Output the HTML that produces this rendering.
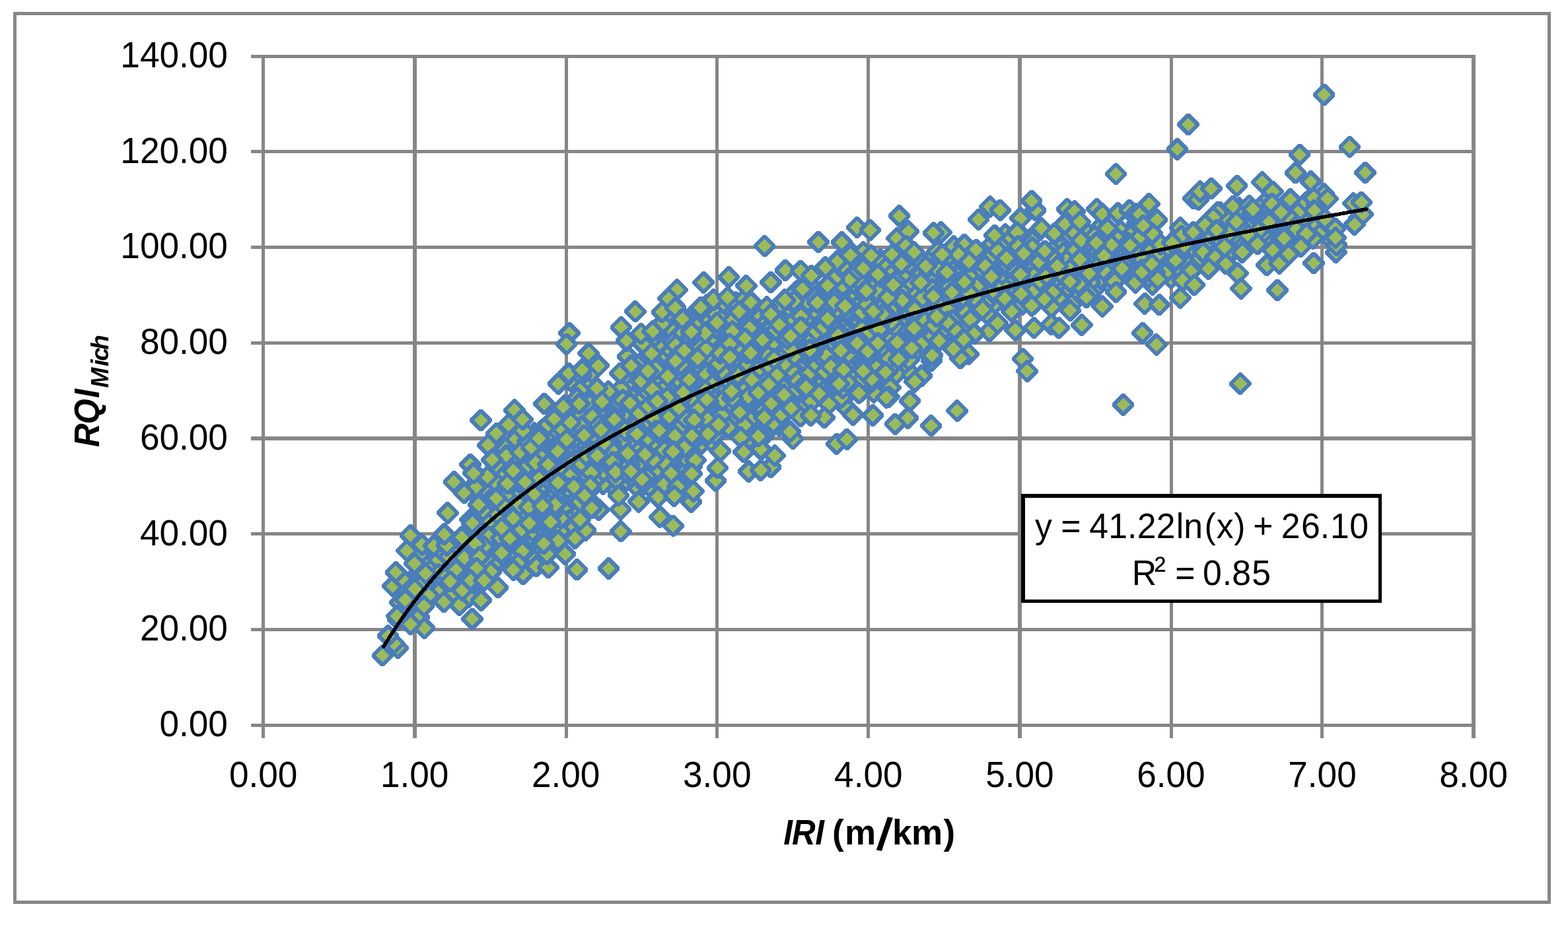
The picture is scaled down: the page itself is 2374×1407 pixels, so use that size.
<!DOCTYPE html>
<html lang="en"><head><meta charset="utf-8"><title>RQI Mich vs IRI (m/km)</title>
<style>
html,body{margin:0;padding:0;background:#fff;}
html,body{width:2374px;height:1407px;}
svg{display:block;}
text{font-family:"Liberation Sans",sans-serif;fill:#000;white-space:pre;}
.g{fill:#868686;shape-rendering:crispEdges;}
.b{font-weight:bold;}
.bi{font-weight:bold;font-style:italic;}
</style></head><body>
<svg width="2374" height="1407" viewBox="0 0 2374 1407" role="img" aria-label="Scatter chart of RQI Mich against IRI (m/km) with logarithmic trendline">
<rect x="0" y="0" width="2374" height="1407" fill="#fff"/>
<rect x="22.5" y="20.5" width="2323" height="1346" fill="none" stroke="#868686" stroke-width="5" shape-rendering="crispEdges"/>
<g class="g">
<rect x="380" y="83" width="1854" height="5"/>
<rect x="380" y="227" width="1854" height="5"/>
<rect x="380" y="372" width="1854" height="5"/>
<rect x="380" y="517" width="1854" height="5"/>
<rect x="380" y="661" width="1854" height="6"/>
<rect x="380" y="806" width="1854" height="5"/>
<rect x="380" y="951" width="1854" height="5"/>
<rect x="380" y="1096" width="1854" height="5"/>
<rect x="396" y="83" width="5" height="1035"/>
<rect x="625" y="83" width="6" height="1035"/>
<rect x="855" y="83" width="5" height="1035"/>
<rect x="1083" y="83" width="5" height="1035"/>
<rect x="1312" y="83" width="5" height="1035"/>
<rect x="1541" y="83" width="6" height="1035"/>
<rect x="1771" y="83" width="5" height="1035"/>
<rect x="1999" y="83" width="5" height="1035"/>
<rect x="2228" y="83" width="6" height="1035"/>
</g>
<text transform="translate(0,102) scale(0.9577,1)" x="190.42" font-size="55.5">140.00</text>
<text transform="translate(0,246.71) scale(0.9577,1)" x="190.42" font-size="55.5">120.00</text>
<text transform="translate(0,391.43) scale(0.9577,1)" x="190.42" font-size="55.5">100.00</text>
<text transform="translate(0,536.14) scale(0.9577,1)" x="221.3" font-size="55.5">80.00</text>
<text transform="translate(0,680.86) scale(0.9577,1)" x="221.3" font-size="55.5">60.00</text>
<text transform="translate(0,825.57) scale(0.9577,1)" x="221.3" font-size="55.5">40.00</text>
<text transform="translate(0,970.29) scale(0.9577,1)" x="221.3" font-size="55.5">20.00</text>
<text transform="translate(0,1115) scale(0.9577,1)" x="252.17" font-size="55.5">0.00</text>
<text transform="translate(0,1191.6) scale(0.9577,1)" x="362.21" font-size="55.5">0.00</text>
<text transform="translate(0,1191.6) scale(0.9577,1)" x="601.38" font-size="55.5">1.00</text>
<text transform="translate(0,1191.6) scale(0.9577,1)" x="840.55" font-size="55.5">2.00</text>
<text transform="translate(0,1191.6) scale(0.9577,1)" x="1079.72" font-size="55.5">3.00</text>
<text transform="translate(0,1191.6) scale(0.9577,1)" x="1318.9" font-size="55.5">4.00</text>
<text transform="translate(0,1191.6) scale(0.9577,1)" x="1558.07" font-size="55.5">5.00</text>
<text transform="translate(0,1191.6) scale(0.9577,1)" x="1797.24" font-size="55.5">6.00</text>
<text transform="translate(0,1191.6) scale(0.9577,1)" x="2036.41" font-size="55.5">7.00</text>
<text transform="translate(0,1191.6) scale(0.9577,1)" x="2275.58" font-size="55.5">8.00</text>
<g transform="rotate(45)" fill="#9BBB59" stroke="#4A7EBB" stroke-width="6" stroke-linejoin="bevel" shape-rendering="crispEdges">
<rect x="1193.9" y="-288.2" width="20.6" height="20.6"/><rect x="1353.7" y="-585.2" width="20.6" height="20.6"/><rect x="1186.8" y="-383.0" width="20.6" height="20.6"/><rect x="1433.6" y="-858.9" width="20.6" height="20.6"/><rect x="1549.6" y="-1093.6" width="20.6" height="20.6"/><rect x="1121.0" y="-390.7" width="20.6" height="20.6"/>
<rect x="1317.6" y="-583.1" width="20.6" height="20.6"/><rect x="1126.0" y="-418.3" width="20.6" height="20.6"/><rect x="1342.4" y="-757.7" width="20.6" height="20.6"/><rect x="1120.3" y="-378.7" width="20.6" height="20.6"/><rect x="1322.6" y="-620.6" width="20.6" height="20.6"/><rect x="1131.7" y="5.9" width="20.6" height="20.6"/>
<rect x="1198.8" y="-396.4" width="20.6" height="20.6"/><rect x="1131.7" y="-490.4" width="20.6" height="20.6"/><rect x="1344.5" y="-745.7" width="20.6" height="20.6"/><rect x="1174.1" y="-160.9" width="20.6" height="20.6"/><rect x="1060.9" y="-291.0" width="20.6" height="20.6"/><rect x="1203.8" y="-196.3" width="20.6" height="20.6"/>
<rect x="1140.1" y="-356.1" width="20.6" height="20.6"/><rect x="1140.8" y="-153.2" width="20.6" height="20.6"/><rect x="1342.4" y="-786.0" width="20.6" height="20.6"/><rect x="1371.4" y="-765.5" width="20.6" height="20.6"/><rect x="1077.2" y="3.8" width="20.6" height="20.6"/><rect x="1224.3" y="-444.5" width="20.6" height="20.6"/>
<rect x="1326.1" y="-708.9" width="20.6" height="20.6"/><rect x="1126.0" y="-108.6" width="20.6" height="20.6"/><rect x="1356.5" y="-749.3" width="20.6" height="20.6"/><rect x="1209.4" y="-356.1" width="20.6" height="20.6"/><rect x="1116.8" y="-283.3" width="20.6" height="20.6"/><rect x="1230.6" y="-508.8" width="20.6" height="20.6"/>
<rect x="1235.6" y="-444.5" width="20.6" height="20.6"/><rect x="1138.7" y="-145.4" width="20.6" height="20.6"/><rect x="1161.4" y="-33.7" width="20.6" height="20.6"/><rect x="1502.2" y="-955.7" width="20.6" height="20.6"/><rect x="1205.2" y="-356.1" width="20.6" height="20.6"/><rect x="1015.7" y="-213.3" width="20.6" height="20.6"/>
<rect x="1437.1" y="-962.8" width="20.6" height="20.6"/><rect x="1111.9" y="22.9" width="20.6" height="20.6"/><rect x="1253.3" y="-573.9" width="20.6" height="20.6"/><rect x="1145.1" y="-472.8" width="20.6" height="20.6"/><rect x="1301.4" y="-490.4" width="20.6" height="20.6"/><rect x="1584.2" y="-1139.6" width="20.6" height="20.6"/>
<rect x="1110.4" y="-308.0" width="20.6" height="20.6"/><rect x="1392.6" y="-803.7" width="20.6" height="20.6"/><rect x="1139.4" y="-37.2" width="20.6" height="20.6"/><rect x="1120.3" y="-426.8" width="20.6" height="20.6"/><rect x="1173.4" y="-465.7" width="20.6" height="20.6"/><rect x="1473.9" y="-968.5" width="20.6" height="20.6"/>
<rect x="1129.5" y="-397.8" width="20.6" height="20.6"/><rect x="1321.9" y="-672.2" width="20.6" height="20.6"/><rect x="1085.7" y="-18.8" width="20.6" height="20.6"/><rect x="1193.2" y="-311.6" width="20.6" height="20.6"/><rect x="1147.9" y="-284.7" width="20.6" height="20.6"/><rect x="1128.1" y="-460.0" width="20.6" height="20.6"/>
<rect x="1309.8" y="-716.7" width="20.6" height="20.6"/><rect x="1089.2" y="-316.5" width="20.6" height="20.6"/><rect x="1157.8" y="-238.0" width="20.6" height="20.6"/><rect x="1350.9" y="-537.1" width="20.6" height="20.6"/><rect x="1306.3" y="-643.9" width="20.6" height="20.6"/><rect x="1281.6" y="-476.3" width="20.6" height="20.6"/>
<rect x="1193.9" y="-250.0" width="20.6" height="20.6"/><rect x="1220.7" y="-641.8" width="20.6" height="20.6"/><rect x="1294.3" y="-746.4" width="20.6" height="20.6"/><rect x="1168.4" y="-528.6" width="20.6" height="20.6"/><rect x="1314.1" y="-747.8" width="20.6" height="20.6"/><rect x="1128.1" y="-79.6" width="20.6" height="20.6"/>
<rect x="1145.1" y="-342.7" width="20.6" height="20.6"/><rect x="1395.4" y="-731.6" width="20.6" height="20.6"/><rect x="1265.3" y="-503.9" width="20.6" height="20.6"/><rect x="1051.8" y="162.2" width="20.6" height="20.6"/><rect x="1462.6" y="-944.4" width="20.6" height="20.6"/><rect x="1365.7" y="-827.7" width="20.6" height="20.6"/>
<rect x="1172.7" y="-210.4" width="20.6" height="20.6"/><rect x="1114.7" y="-26.6" width="20.6" height="20.6"/><rect x="1268.1" y="-471.4" width="20.6" height="20.6"/><rect x="1522.0" y="-1044.8" width="20.6" height="20.6"/><rect x="1046.8" y="-86.0" width="20.6" height="20.6"/><rect x="1528.3" y="-939.5" width="20.6" height="20.6"/>
<rect x="1240.5" y="-573.9" width="20.6" height="20.6"/><rect x="1590.6" y="-1177.0" width="20.6" height="20.6"/><rect x="1054.6" y="-20.2" width="20.6" height="20.6"/><rect x="1322.6" y="-534.3" width="20.6" height="20.6"/><rect x="1328.9" y="-642.5" width="20.6" height="20.6"/><rect x="1089.2" y="-94.5" width="20.6" height="20.6"/>
<rect x="1107.6" y="49.8" width="20.6" height="20.6"/><rect x="1077.9" y="147.4" width="20.6" height="20.6"/><rect x="1264.6" y="-521.6" width="20.6" height="20.6"/><rect x="1108.3" y="-438.8" width="20.6" height="20.6"/><rect x="1179.0" y="-488.3" width="20.6" height="20.6"/><rect x="1037.6" y="-404.9" width="20.6" height="20.6"/>
<rect x="1345.2" y="-525.8" width="20.6" height="20.6"/><rect x="1184.0" y="-493.3" width="20.6" height="20.6"/><rect x="1215.8" y="-279.0" width="20.6" height="20.6"/><rect x="1142.3" y="3.8" width="20.6" height="20.6"/><rect x="1099.1" y="-250.0" width="20.6" height="20.6"/><rect x="1309.8" y="-739.4" width="20.6" height="20.6"/>
<rect x="1133.8" y="-406.3" width="20.6" height="20.6"/><rect x="1678.2" y="-1232.2" width="20.6" height="20.6"/><rect x="1208.7" y="-428.9" width="20.6" height="20.6"/><rect x="1282.3" y="-494.0" width="20.6" height="20.6"/><rect x="1324.0" y="-696.9" width="20.6" height="20.6"/><rect x="1397.5" y="-892.1" width="20.6" height="20.6"/>
<rect x="1544.6" y="-1026.4" width="20.6" height="20.6"/><rect x="1074.4" y="-178.6" width="20.6" height="20.6"/><rect x="1265.3" y="-693.4" width="20.6" height="20.6"/><rect x="1222.9" y="-502.5" width="20.6" height="20.6"/><rect x="1373.5" y="-828.4" width="20.6" height="20.6"/><rect x="1127.4" y="-156.7" width="20.6" height="20.6"/>
<rect x="1395.4" y="-782.5" width="20.6" height="20.6"/><rect x="1145.8" y="-213.3" width="20.6" height="20.6"/><rect x="1130.2" y="-87.4" width="20.6" height="20.6"/><rect x="1551.7" y="-979.8" width="20.6" height="20.6"/><rect x="1109.0" y="-124.2" width="20.6" height="20.6"/><rect x="1179.0" y="-505.3" width="20.6" height="20.6"/>
<rect x="1187.5" y="-341.2" width="20.6" height="20.6"/><rect x="1089.9" y="-37.2" width="20.6" height="20.6"/><rect x="1363.6" y="-817.1" width="20.6" height="20.6"/><rect x="1324.7" y="-591.6" width="20.6" height="20.6"/><rect x="1336.7" y="-650.3" width="20.6" height="20.6"/><rect x="1166.3" y="-560.5" width="20.6" height="20.6"/>
<rect x="999.4" y="-208.3" width="20.6" height="20.6"/><rect x="1062.4" y="-127.0" width="20.6" height="20.6"/><rect x="1104.8" y="109.2" width="20.6" height="20.6"/><rect x="1184.0" y="-653.1" width="20.6" height="20.6"/><rect x="1333.2" y="-549.1" width="20.6" height="20.6"/><rect x="1341.0" y="-804.4" width="20.6" height="20.6"/>
<rect x="1411.0" y="-943.7" width="20.6" height="20.6"/><rect x="1617.4" y="-1185.5" width="20.6" height="20.6"/><rect x="1208.7" y="-662.3" width="20.6" height="20.6"/><rect x="1225.0" y="-363.2" width="20.6" height="20.6"/><rect x="1307.0" y="-523.0" width="20.6" height="20.6"/><rect x="1162.8" y="-404.2" width="20.6" height="20.6"/>
<rect x="1162.8" y="-518.7" width="20.6" height="20.6"/><rect x="1349.4" y="-877.9" width="20.6" height="20.6"/><rect x="1155.0" y="-566.1" width="20.6" height="20.6"/><rect x="1115.4" y="-321.5" width="20.6" height="20.6"/><rect x="1315.5" y="-572.5" width="20.6" height="20.6"/><rect x="1153.6" y="-137.6" width="20.6" height="20.6"/>
<rect x="1028.4" y="-180.7" width="20.6" height="20.6"/><rect x="1490.9" y="-928.9" width="20.6" height="20.6"/><rect x="1488.0" y="-943.0" width="20.6" height="20.6"/><rect x="1214.4" y="-266.3" width="20.6" height="20.6"/><rect x="1186.8" y="-267.0" width="20.6" height="20.6"/><rect x="1368.5" y="-751.4" width="20.6" height="20.6"/>
<rect x="1044.0" y="-139.7" width="20.6" height="20.6"/><rect x="1307.7" y="-662.3" width="20.6" height="20.6"/><rect x="1065.9" y="-199.8" width="20.6" height="20.6"/><rect x="1060.9" y="-361.8" width="20.6" height="20.6"/><rect x="1186.1" y="-400.6" width="20.6" height="20.6"/><rect x="1139.4" y="-82.4" width="20.6" height="20.6"/>
<rect x="1049.6" y="-39.3" width="20.6" height="20.6"/><rect x="1136.6" y="-157.4" width="20.6" height="20.6"/><rect x="1130.9" y="-194.2" width="20.6" height="20.6"/><rect x="1042.6" y="-73.3" width="20.6" height="20.6"/><rect x="1330.4" y="-720.3" width="20.6" height="20.6"/><rect x="1078.6" y="12.3" width="20.6" height="20.6"/>
<rect x="1211.6" y="-417.6" width="20.6" height="20.6"/><rect x="1348.0" y="-687.0" width="20.6" height="20.6"/><rect x="1154.3" y="-549.8" width="20.6" height="20.6"/><rect x="1040.4" y="-33.0" width="20.6" height="20.6"/><rect x="1344.5" y="-710.4" width="20.6" height="20.6"/><rect x="1016.4" y="-69.7" width="20.6" height="20.6"/>
<rect x="1389.0" y="-849.7" width="20.6" height="20.6"/><rect x="1118.2" y="-105.1" width="20.6" height="20.6"/><rect x="1341.0" y="-825.6" width="20.6" height="20.6"/><rect x="1025.6" y="-118.5" width="20.6" height="20.6"/><rect x="1087.1" y="-35.8" width="20.6" height="20.6"/><rect x="1063.8" y="-80.3" width="20.6" height="20.6"/>
<rect x="1386.2" y="-763.4" width="20.6" height="20.6"/><rect x="1242.0" y="-426.8" width="20.6" height="20.6"/><rect x="1090.6" y="157.3" width="20.6" height="20.6"/><rect x="1156.4" y="-286.1" width="20.6" height="20.6"/><rect x="1112.6" y="-471.4" width="20.6" height="20.6"/><rect x="1090.6" y="-391.5" width="20.6" height="20.6"/>
<rect x="1021.3" y="138.9" width="20.6" height="20.6"/><rect x="1229.9" y="-617.0" width="20.6" height="20.6"/><rect x="1219.3" y="-498.9" width="20.6" height="20.6"/><rect x="1532.6" y="-1021.5" width="20.6" height="20.6"/><rect x="1118.9" y="-279.7" width="20.6" height="20.6"/><rect x="1203.8" y="-344.8" width="20.6" height="20.6"/>
<rect x="1077.2" y="224.4" width="20.6" height="20.6"/><rect x="1635.1" y="-1118.4" width="20.6" height="20.6"/><rect x="1299.9" y="-476.3" width="20.6" height="20.6"/><rect x="1054.6" y="-115.0" width="20.6" height="20.6"/><rect x="1195.3" y="-203.4" width="20.6" height="20.6"/><rect x="1121.8" y="-52.0" width="20.6" height="20.6"/>
<rect x="1316.2" y="-868.8" width="20.6" height="20.6"/><rect x="1246.9" y="-673.6" width="20.6" height="20.6"/><rect x="1258.2" y="-597.2" width="20.6" height="20.6"/><rect x="1074.4" y="118.4" width="20.6" height="20.6"/><rect x="1105.5" y="-451.6" width="20.6" height="20.6"/><rect x="1311.3" y="-593.7" width="20.6" height="20.6"/>
<rect x="1184.0" y="-589.4" width="20.6" height="20.6"/><rect x="1448.4" y="-914.7" width="20.6" height="20.6"/><rect x="1278.7" y="-682.8" width="20.6" height="20.6"/><rect x="1165.6" y="-391.5" width="20.6" height="20.6"/><rect x="1525.5" y="-986.1" width="20.6" height="20.6"/><rect x="1663.4" y="-1241.4" width="20.6" height="20.6"/>
<rect x="1324.7" y="-625.5" width="20.6" height="20.6"/><rect x="1036.2" y="-338.4" width="20.6" height="20.6"/><rect x="1181.2" y="-50.6" width="20.6" height="20.6"/><rect x="1080.7" y="-46.4" width="20.6" height="20.6"/><rect x="1051.8" y="-18.8" width="20.6" height="20.6"/><rect x="1088.5" y="64.6" width="20.6" height="20.6"/>
<rect x="1114.7" y="-233.1" width="20.6" height="20.6"/><rect x="1385.5" y="-877.2" width="20.6" height="20.6"/><rect x="1114.7" y="-78.9" width="20.6" height="20.6"/><rect x="1061.7" y="-387.9" width="20.6" height="20.6"/><rect x="993.8" y="-109.3" width="20.6" height="20.6"/><rect x="1094.9" y="-368.8" width="20.6" height="20.6"/>
<rect x="1313.4" y="-812.2" width="20.6" height="20.6"/><rect x="1309.8" y="-685.6" width="20.6" height="20.6"/><rect x="1102.7" y="-379.4" width="20.6" height="20.6"/><rect x="1294.3" y="-552.7" width="20.6" height="20.6"/><rect x="1150.7" y="-577.4" width="20.6" height="20.6"/><rect x="1171.3" y="-289.6" width="20.6" height="20.6"/>
<rect x="1084.3" y="-266.3" width="20.6" height="20.6"/><rect x="1085.7" y="67.5" width="20.6" height="20.6"/><rect x="1064.5" y="-277.6" width="20.6" height="20.6"/><rect x="1131.7" y="-168.0" width="20.6" height="20.6"/><rect x="1199.5" y="-523.0" width="20.6" height="20.6"/><rect x="1323.3" y="-556.2" width="20.6" height="20.6"/>
<rect x="1056.0" y="-35.8" width="20.6" height="20.6"/><rect x="1121.8" y="88.0" width="20.6" height="20.6"/><rect x="1217.2" y="-622.7" width="20.6" height="20.6"/><rect x="1234.2" y="-389.3" width="20.6" height="20.6"/><rect x="1177.6" y="-175.8" width="20.6" height="20.6"/><rect x="1226.4" y="-508.8" width="20.6" height="20.6"/>
<rect x="1126.7" y="-472.8" width="20.6" height="20.6"/><rect x="1123.2" y="-192.1" width="20.6" height="20.6"/><rect x="1309.1" y="-778.2" width="20.6" height="20.6"/><rect x="1273.1" y="-374.5" width="20.6" height="20.6"/><rect x="1263.9" y="-559.0" width="20.6" height="20.6"/><rect x="1364.3" y="-692.0" width="20.6" height="20.6"/>
<rect x="1382.0" y="-730.9" width="20.6" height="20.6"/><rect x="1213.7" y="-497.5" width="20.6" height="20.6"/><rect x="1294.3" y="-634.7" width="20.6" height="20.6"/><rect x="1114.0" y="-64.1" width="20.6" height="20.6"/><rect x="1217.2" y="-378.0" width="20.6" height="20.6"/><rect x="1154.3" y="-467.8" width="20.6" height="20.6"/>
<rect x="1384.8" y="-680.0" width="20.6" height="20.6"/><rect x="1203.8" y="-354.7" width="20.6" height="20.6"/><rect x="1143.7" y="-447.3" width="20.6" height="20.6"/><rect x="1407.4" y="-844.0" width="20.6" height="20.6"/><rect x="1021.3" y="-257.1" width="20.6" height="20.6"/><rect x="1289.3" y="-527.9" width="20.6" height="20.6"/>
<rect x="1114.7" y="-261.3" width="20.6" height="20.6"/><rect x="1228.5" y="-564.7" width="20.6" height="20.6"/><rect x="1680.4" y="-1220.2" width="20.6" height="20.6"/><rect x="1073.0" y="193.3" width="20.6" height="20.6"/><rect x="1241.3" y="-560.5" width="20.6" height="20.6"/><rect x="1210.1" y="-634.0" width="20.6" height="20.6"/>
<rect x="1291.5" y="-777.5" width="20.6" height="20.6"/><rect x="1319.7" y="-616.3" width="20.6" height="20.6"/><rect x="1216.5" y="-592.3" width="20.6" height="20.6"/><rect x="1285.1" y="-423.3" width="20.6" height="20.6"/><rect x="1065.9" y="-57.0" width="20.6" height="20.6"/><rect x="1157.8" y="-420.4" width="20.6" height="20.6"/>
<rect x="1443.5" y="-922.5" width="20.6" height="20.6"/><rect x="1184.7" y="-540.7" width="20.6" height="20.6"/><rect x="1441.4" y="-923.2" width="20.6" height="20.6"/><rect x="1320.5" y="-540.7" width="20.6" height="20.6"/><rect x="1056.0" y="-173.0" width="20.6" height="20.6"/><rect x="1148.6" y="-284.0" width="20.6" height="20.6"/>
<rect x="1084.3" y="37.8" width="20.6" height="20.6"/><rect x="1163.5" y="-310.1" width="20.6" height="20.6"/><rect x="1301.4" y="-633.3" width="20.6" height="20.6"/><rect x="1583.5" y="-1117.7" width="20.6" height="20.6"/><rect x="1265.3" y="-717.4" width="20.6" height="20.6"/><rect x="1058.8" y="-216.8" width="20.6" height="20.6"/>
<rect x="1003.0" y="-56.3" width="20.6" height="20.6"/><rect x="1440.7" y="-846.1" width="20.6" height="20.6"/><rect x="1070.8" y="-18.1" width="20.6" height="20.6"/><rect x="1316.9" y="-835.5" width="20.6" height="20.6"/><rect x="1080.0" y="-228.1" width="20.6" height="20.6"/><rect x="1102.7" y="-65.5" width="20.6" height="20.6"/>
<rect x="1600.5" y="-1133.2" width="20.6" height="20.6"/><rect x="1326.8" y="-685.6" width="20.6" height="20.6"/><rect x="1150.0" y="-302.4" width="20.6" height="20.6"/><rect x="1195.3" y="-541.4" width="20.6" height="20.6"/><rect x="1326.8" y="-585.2" width="20.6" height="20.6"/><rect x="1150.7" y="-269.1" width="20.6" height="20.6"/>
<rect x="1064.5" y="-324.3" width="20.6" height="20.6"/><rect x="1234.2" y="-591.6" width="20.6" height="20.6"/><rect x="1133.8" y="-55.6" width="20.6" height="20.6"/><rect x="1331.1" y="-514.5" width="20.6" height="20.6"/><rect x="1208.0" y="-455.1" width="20.6" height="20.6"/><rect x="1430.1" y="-810.1" width="20.6" height="20.6"/>
<rect x="1341.7" y="-550.6" width="20.6" height="20.6"/><rect x="1170.5" y="-247.9" width="20.6" height="20.6"/><rect x="1232.8" y="-376.6" width="20.6" height="20.6"/><rect x="1286.5" y="-556.2" width="20.6" height="20.6"/><rect x="1425.8" y="-835.5" width="20.6" height="20.6"/><rect x="1222.2" y="-322.2" width="20.6" height="20.6"/>
<rect x="1212.3" y="-556.9" width="20.6" height="20.6"/><rect x="1357.9" y="-548.4" width="20.6" height="20.6"/><rect x="1247.6" y="-441.0" width="20.6" height="20.6"/><rect x="1150.7" y="-188.5" width="20.6" height="20.6"/><rect x="1319.7" y="-510.2" width="20.6" height="20.6"/><rect x="1199.5" y="-425.4" width="20.6" height="20.6"/>
<rect x="1261.8" y="-445.2" width="20.6" height="20.6"/><rect x="1283.0" y="-694.1" width="20.6" height="20.6"/><rect x="1192.5" y="-354.7" width="20.6" height="20.6"/><rect x="1116.8" y="-453.0" width="20.6" height="20.6"/><rect x="1095.6" y="-344.1" width="20.6" height="20.6"/><rect x="1230.6" y="-407.0" width="20.6" height="20.6"/>
<rect x="1094.2" y="70.3" width="20.6" height="20.6"/><rect x="1085.0" y="-303.8" width="20.6" height="20.6"/><rect x="1349.4" y="-569.6" width="20.6" height="20.6"/><rect x="1307.0" y="-631.9" width="20.6" height="20.6"/><rect x="1080.0" y="-64.1" width="20.6" height="20.6"/><rect x="1172.7" y="-350.4" width="20.6" height="20.6"/>
<rect x="1294.3" y="-542.8" width="20.6" height="20.6"/><rect x="1166.3" y="-549.1" width="20.6" height="20.6"/><rect x="1321.9" y="-752.8" width="20.6" height="20.6"/><rect x="1284.4" y="-617.7" width="20.6" height="20.6"/><rect x="1144.4" y="-223.2" width="20.6" height="20.6"/><rect x="1140.8" y="-448.7" width="20.6" height="20.6"/>
<rect x="1384.1" y="-823.5" width="20.6" height="20.6"/><rect x="1293.6" y="-711.8" width="20.6" height="20.6"/><rect x="1197.4" y="-478.4" width="20.6" height="20.6"/><rect x="1343.8" y="-797.3" width="20.6" height="20.6"/><rect x="1085.7" y="-158.8" width="20.6" height="20.6"/><rect x="1063.1" y="40.6" width="20.6" height="20.6"/>
<rect x="1196.7" y="-448.0" width="20.6" height="20.6"/><rect x="1046.8" y="136.0" width="20.6" height="20.6"/><rect x="1070.8" y="-337.7" width="20.6" height="20.6"/><rect x="1135.2" y="6.6" width="20.6" height="20.6"/><rect x="1121.0" y="-240.8" width="20.6" height="20.6"/><rect x="1102.7" y="-331.4" width="20.6" height="20.6"/>
<rect x="1211.6" y="-410.5" width="20.6" height="20.6"/><rect x="1137.3" y="-383.0" width="20.6" height="20.6"/><rect x="1418.0" y="-865.9" width="20.6" height="20.6"/><rect x="1063.1" y="-38.6" width="20.6" height="20.6"/><rect x="1407.4" y="-805.8" width="20.6" height="20.6"/><rect x="1077.9" y="-101.5" width="20.6" height="20.6"/>
<rect x="1310.6" y="-554.8" width="20.6" height="20.6"/><rect x="1181.2" y="-194.9" width="20.6" height="20.6"/><rect x="1307.7" y="-823.5" width="20.6" height="20.6"/><rect x="1559.5" y="-1107.8" width="20.6" height="20.6"/><rect x="1090.6" y="103.5" width="20.6" height="20.6"/><rect x="1252.6" y="-560.5" width="20.6" height="20.6"/>
<rect x="1225.7" y="-339.8" width="20.6" height="20.6"/><rect x="1200.2" y="-440.2" width="20.6" height="20.6"/><rect x="1423.0" y="-863.8" width="20.6" height="20.6"/><rect x="1111.9" y="-197.7" width="20.6" height="20.6"/><rect x="1326.8" y="-821.4" width="20.6" height="20.6"/><rect x="1106.9" y="-154.6" width="20.6" height="20.6"/>
<rect x="1073.7" y="-240.1" width="20.6" height="20.6"/><rect x="1138.7" y="-43.6" width="20.6" height="20.6"/><rect x="1261.8" y="-371.7" width="20.6" height="20.6"/><rect x="1447.7" y="-1000.3" width="20.6" height="20.6"/><rect x="1111.1" y="-263.5" width="20.6" height="20.6"/><rect x="1133.1" y="-227.4" width="20.6" height="20.6"/>
<rect x="1291.5" y="-514.5" width="20.6" height="20.6"/><rect x="1162.1" y="-380.8" width="20.6" height="20.6"/><rect x="1106.2" y="-151.0" width="20.6" height="20.6"/><rect x="1065.9" y="-140.4" width="20.6" height="20.6"/><rect x="1193.9" y="-544.2" width="20.6" height="20.6"/><rect x="1470.4" y="-915.4" width="20.6" height="20.6"/>
<rect x="1348.0" y="-698.3" width="20.6" height="20.6"/><rect x="1144.4" y="-234.5" width="20.6" height="20.6"/><rect x="1481.7" y="-990.4" width="20.6" height="20.6"/><rect x="1217.2" y="-634.0" width="20.6" height="20.6"/><rect x="1345.9" y="-615.6" width="20.6" height="20.6"/><rect x="1357.9" y="-722.4" width="20.6" height="20.6"/>
<rect x="1207.3" y="-530.8" width="20.6" height="20.6"/><rect x="1136.6" y="-304.5" width="20.6" height="20.6"/><rect x="1336.7" y="-749.3" width="20.6" height="20.6"/><rect x="1040.4" y="105.6" width="20.6" height="20.6"/><rect x="1028.4" y="10.2" width="20.6" height="20.6"/><rect x="1249.7" y="-414.8" width="20.6" height="20.6"/>
<rect x="1554.5" y="-1090.1" width="20.6" height="20.6"/><rect x="1038.3" y="196.9" width="20.6" height="20.6"/><rect x="1085.7" y="19.4" width="20.6" height="20.6"/><rect x="1338.1" y="-798.7" width="20.6" height="20.6"/><rect x="1379.8" y="-751.4" width="20.6" height="20.6"/><rect x="1275.2" y="-762.7" width="20.6" height="20.6"/>
<rect x="1217.9" y="-371.7" width="20.6" height="20.6"/><rect x="1195.3" y="-585.2" width="20.6" height="20.6"/><rect x="1162.1" y="-293.2" width="20.6" height="20.6"/><rect x="1627.3" y="-1030.0" width="20.6" height="20.6"/><rect x="1516.3" y="-943.0" width="20.6" height="20.6"/><rect x="1283.0" y="-630.5" width="20.6" height="20.6"/>
<rect x="1381.3" y="-888.6" width="20.6" height="20.6"/><rect x="1073.0" y="-47.1" width="20.6" height="20.6"/><rect x="1152.9" y="-453.7" width="20.6" height="20.6"/><rect x="1360.0" y="-648.1" width="20.6" height="20.6"/><rect x="1087.8" y="31.4" width="20.6" height="20.6"/><rect x="1558.0" y="-1028.6" width="20.6" height="20.6"/>
<rect x="1102.0" y="-78.9" width="20.6" height="20.6"/><rect x="1344.5" y="-723.1" width="20.6" height="20.6"/><rect x="1209.4" y="-360.3" width="20.6" height="20.6"/><rect x="1111.9" y="38.5" width="20.6" height="20.6"/><rect x="1583.5" y="-1151.6" width="20.6" height="20.6"/><rect x="1091.3" y="-170.1" width="20.6" height="20.6"/>
<rect x="1140.1" y="-16.7" width="20.6" height="20.6"/><rect x="1089.2" y="-16.7" width="20.6" height="20.6"/><rect x="1058.8" y="-157.4" width="20.6" height="20.6"/><rect x="1403.9" y="-766.9" width="20.6" height="20.6"/><rect x="1578.5" y="-1078.8" width="20.6" height="20.6"/><rect x="1304.2" y="-527.2" width="20.6" height="20.6"/>
<rect x="1181.2" y="-206.2" width="20.6" height="20.6"/><rect x="1310.6" y="-752.8" width="20.6" height="20.6"/><rect x="1140.8" y="-467.1" width="20.6" height="20.6"/><rect x="1474.6" y="-949.4" width="20.6" height="20.6"/><rect x="1048.2" y="-4.0" width="20.6" height="20.6"/><rect x="1262.5" y="-453.0" width="20.6" height="20.6"/>
<rect x="1196.7" y="-170.8" width="20.6" height="20.6"/><rect x="1190.3" y="-505.3" width="20.6" height="20.6"/><rect x="1114.0" y="-64.1" width="20.6" height="20.6"/><rect x="1173.4" y="-535.0" width="20.6" height="20.6"/><rect x="1143.7" y="-387.9" width="20.6" height="20.6"/><rect x="1065.9" y="-112.1" width="20.6" height="20.6"/>
<rect x="1378.4" y="-799.5" width="20.6" height="20.6"/><rect x="1102.7" y="-38.6" width="20.6" height="20.6"/><rect x="1116.1" y="-156.7" width="20.6" height="20.6"/><rect x="1337.4" y="-561.9" width="20.6" height="20.6"/><rect x="1269.5" y="-484.1" width="20.6" height="20.6"/><rect x="1130.2" y="-94.5" width="20.6" height="20.6"/>
<rect x="1095.6" y="-332.8" width="20.6" height="20.6"/><rect x="1275.9" y="-524.4" width="20.6" height="20.6"/><rect x="1246.2" y="-339.1" width="20.6" height="20.6"/><rect x="1198.1" y="-182.2" width="20.6" height="20.6"/><rect x="1338.1" y="-810.1" width="20.6" height="20.6"/><rect x="1034.1" y="-88.8" width="20.6" height="20.6"/>
<rect x="1138.0" y="-412.0" width="20.6" height="20.6"/><rect x="1073.0" y="104.2" width="20.6" height="20.6"/><rect x="1295.7" y="-760.6" width="20.6" height="20.6"/><rect x="1056.7" y="-162.4" width="20.6" height="20.6"/><rect x="1534.7" y="-1102.8" width="20.6" height="20.6"/><rect x="1273.1" y="-441.0" width="20.6" height="20.6"/>
<rect x="1315.5" y="-597.9" width="20.6" height="20.6"/><rect x="1104.1" y="-136.2" width="20.6" height="20.6"/><rect x="1134.5" y="-11.0" width="20.6" height="20.6"/><rect x="1288.6" y="-602.2" width="20.6" height="20.6"/><rect x="1268.1" y="-662.3" width="20.6" height="20.6"/><rect x="1650.7" y="-1160.8" width="20.6" height="20.6"/>
<rect x="1159.9" y="-298.1" width="20.6" height="20.6"/><rect x="1092.1" y="96.4" width="20.6" height="20.6"/><rect x="1168.4" y="-4.0" width="20.6" height="20.6"/><rect x="1221.5" y="-433.2" width="20.6" height="20.6"/><rect x="1169.8" y="-235.9" width="20.6" height="20.6"/><rect x="1244.8" y="-654.5" width="20.6" height="20.6"/>
<rect x="1162.8" y="-381.6" width="20.6" height="20.6"/><rect x="1471.1" y="-875.1" width="20.6" height="20.6"/><rect x="1145.8" y="-119.9" width="20.6" height="20.6"/><rect x="1244.8" y="-442.4" width="20.6" height="20.6"/><rect x="1309.1" y="-543.5" width="20.6" height="20.6"/><rect x="1152.2" y="-383.7" width="20.6" height="20.6"/>
<rect x="1195.3" y="-247.2" width="20.6" height="20.6"/><rect x="1174.8" y="-146.1" width="20.6" height="20.6"/><rect x="1157.8" y="-221.0" width="20.6" height="20.6"/><rect x="1269.5" y="-494.0" width="20.6" height="20.6"/><rect x="1240.5" y="-593.7" width="20.6" height="20.6"/><rect x="1421.6" y="-906.2" width="20.6" height="20.6"/>
<rect x="1232.1" y="-207.6" width="20.6" height="20.6"/><rect x="1093.5" y="66.8" width="20.6" height="20.6"/><rect x="1281.6" y="-554.1" width="20.6" height="20.6"/><rect x="1317.6" y="-700.5" width="20.6" height="20.6"/><rect x="1149.3" y="-189.9" width="20.6" height="20.6"/><rect x="1229.9" y="-546.3" width="20.6" height="20.6"/>
<rect x="1186.1" y="-639.6" width="20.6" height="20.6"/><rect x="1092.1" y="51.2" width="20.6" height="20.6"/><rect x="1123.2" y="28.6" width="20.6" height="20.6"/><rect x="1081.4" y="-277.6" width="20.6" height="20.6"/><rect x="1188.2" y="-491.9" width="20.6" height="20.6"/><rect x="1307.7" y="-527.9" width="20.6" height="20.6"/>
<rect x="1324.7" y="-566.1" width="20.6" height="20.6"/><rect x="1103.4" y="-316.5" width="20.6" height="20.6"/><rect x="1619.6" y="-1158.0" width="20.6" height="20.6"/><rect x="1149.3" y="-27.3" width="20.6" height="20.6"/><rect x="1192.5" y="-196.3" width="20.6" height="20.6"/><rect x="1082.2" y="-170.8" width="20.6" height="20.6"/>
<rect x="1241.3" y="-536.4" width="20.6" height="20.6"/><rect x="1094.9" y="-185.0" width="20.6" height="20.6"/><rect x="1074.4" y="126.9" width="20.6" height="20.6"/><rect x="1088.5" y="-23.1" width="20.6" height="20.6"/><rect x="1124.6" y="-104.4" width="20.6" height="20.6"/><rect x="1410.3" y="-910.5" width="20.6" height="20.6"/>
<rect x="1541.1" y="-966.3" width="20.6" height="20.6"/><rect x="1164.2" y="-452.3" width="20.6" height="20.6"/><rect x="1184.0" y="-308.0" width="20.6" height="20.6"/><rect x="1069.4" y="27.2" width="20.6" height="20.6"/><rect x="1229.9" y="-250.7" width="20.6" height="20.6"/><rect x="1286.5" y="-560.5" width="20.6" height="20.6"/>
<rect x="1274.5" y="-357.5" width="20.6" height="20.6"/><rect x="1549.6" y="-1045.5" width="20.6" height="20.6"/><rect x="1077.2" y="-385.1" width="20.6" height="20.6"/><rect x="1449.9" y="-824.2" width="20.6" height="20.6"/><rect x="1452.0" y="-973.4" width="20.6" height="20.6"/><rect x="1126.0" y="-172.3" width="20.6" height="20.6"/>
<rect x="1143.7" y="-68.3" width="20.6" height="20.6"/><rect x="1239.1" y="-664.4" width="20.6" height="20.6"/><rect x="1244.1" y="-496.8" width="20.6" height="20.6"/><rect x="1063.1" y="-1.8" width="20.6" height="20.6"/><rect x="1275.2" y="-345.5" width="20.6" height="20.6"/><rect x="1108.3" y="80.2" width="20.6" height="20.6"/>
<rect x="1064.5" y="6.6" width="20.6" height="20.6"/><rect x="1234.9" y="-520.1" width="20.6" height="20.6"/><rect x="1505.0" y="-1016.5" width="20.6" height="20.6"/><rect x="1398.9" y="-877.9" width="20.6" height="20.6"/><rect x="1054.6" y="-201.2" width="20.6" height="20.6"/><rect x="1261.8" y="-342.0" width="20.6" height="20.6"/>
<rect x="1198.1" y="-231.6" width="20.6" height="20.6"/><rect x="1217.2" y="-694.8" width="20.6" height="20.6"/><rect x="1369.9" y="-888.6" width="20.6" height="20.6"/><rect x="1253.3" y="-521.6" width="20.6" height="20.6"/><rect x="1079.3" y="-292.5" width="20.6" height="20.6"/><rect x="1098.4" y="-300.2" width="20.6" height="20.6"/>
<rect x="1234.9" y="-496.1" width="20.6" height="20.6"/><rect x="1282.3" y="-629.7" width="20.6" height="20.6"/><rect x="1278.0" y="-519.4" width="20.6" height="20.6"/><rect x="1589.9" y="-1075.9" width="20.6" height="20.6"/><rect x="1326.1" y="-612.8" width="20.6" height="20.6"/><rect x="1286.5" y="-543.5" width="20.6" height="20.6"/>
<rect x="1174.8" y="-328.5" width="20.6" height="20.6"/><rect x="1261.1" y="-407.7" width="20.6" height="20.6"/><rect x="1088.5" y="-64.1" width="20.6" height="20.6"/><rect x="1529.0" y="-999.6" width="20.6" height="20.6"/><rect x="1242.0" y="-674.3" width="20.6" height="20.6"/><rect x="1094.2" y="-171.5" width="20.6" height="20.6"/>
<rect x="1121.0" y="-216.8" width="20.6" height="20.6"/><rect x="1032.7" y="136.0" width="20.6" height="20.6"/><rect x="1062.4" y="-228.8" width="20.6" height="20.6"/><rect x="1591.3" y="-1095.7" width="20.6" height="20.6"/><rect x="1247.6" y="-498.9" width="20.6" height="20.6"/><rect x="1260.3" y="-554.1" width="20.6" height="20.6"/>
<rect x="1316.2" y="-725.9" width="20.6" height="20.6"/><rect x="1259.6" y="-501.1" width="20.6" height="20.6"/><rect x="1106.9" y="-255.0" width="20.6" height="20.6"/><rect x="1102.7" y="-212.6" width="20.6" height="20.6"/><rect x="1309.8" y="-766.2" width="20.6" height="20.6"/><rect x="1226.4" y="-196.3" width="20.6" height="20.6"/>
<rect x="1367.8" y="-585.2" width="20.6" height="20.6"/><rect x="1258.2" y="-614.2" width="20.6" height="20.6"/><rect x="1162.1" y="29.3" width="20.6" height="20.6"/><rect x="1223.6" y="-554.1" width="20.6" height="20.6"/><rect x="1229.9" y="-629.7" width="20.6" height="20.6"/><rect x="1359.3" y="-709.7" width="20.6" height="20.6"/>
<rect x="1341.0" y="-839.8" width="20.6" height="20.6"/><rect x="1102.0" y="-18.1" width="20.6" height="20.6"/><rect x="1314.8" y="-791.0" width="20.6" height="20.6"/><rect x="1123.2" y="73.8" width="20.6" height="20.6"/><rect x="1282.3" y="-546.3" width="20.6" height="20.6"/><rect x="1085.0" y="-235.9" width="20.6" height="20.6"/>
<rect x="1135.9" y="-94.5" width="20.6" height="20.6"/><rect x="1331.8" y="-535.0" width="20.6" height="20.6"/><rect x="1251.2" y="-585.9" width="20.6" height="20.6"/><rect x="1051.8" y="149.5" width="20.6" height="20.6"/><rect x="1192.5" y="-323.6" width="20.6" height="20.6"/><rect x="1319.7" y="-523.0" width="20.6" height="20.6"/>
<rect x="1200.2" y="-387.9" width="20.6" height="20.6"/><rect x="1174.1" y="-259.9" width="20.6" height="20.6"/><rect x="1357.9" y="-805.8" width="20.6" height="20.6"/><rect x="1053.9" y="-39.3" width="20.6" height="20.6"/><rect x="1142.3" y="50.5" width="20.6" height="20.6"/><rect x="1087.1" y="-157.4" width="20.6" height="20.6"/>
<rect x="1263.9" y="-728.7" width="20.6" height="20.6"/><rect x="1056.0" y="174.9" width="20.6" height="20.6"/><rect x="1341.0" y="-773.3" width="20.6" height="20.6"/><rect x="1445.6" y="-894.9" width="20.6" height="20.6"/><rect x="1450.6" y="-885.7" width="20.6" height="20.6"/><rect x="1083.6" y="-210.4" width="20.6" height="20.6"/>
<rect x="1246.9" y="-396.4" width="20.6" height="20.6"/><rect x="1651.4" y="-1181.3" width="20.6" height="20.6"/><rect x="1104.8" y="-216.1" width="20.6" height="20.6"/><rect x="1179.0" y="-453.0" width="20.6" height="20.6"/><rect x="1232.1" y="-233.1" width="20.6" height="20.6"/><rect x="1070.8" y="-258.5" width="20.6" height="20.6"/>
<rect x="1374.2" y="-803.7" width="20.6" height="20.6"/><rect x="1422.3" y="-792.4" width="20.6" height="20.6"/><rect x="1024.9" y="-424.7" width="20.6" height="20.6"/><rect x="1266.7" y="-595.8" width="20.6" height="20.6"/><rect x="1158.5" y="-74.7" width="20.6" height="20.6"/><rect x="1070.1" y="-349.7" width="20.6" height="20.6"/>
<rect x="1123.9" y="-327.1" width="20.6" height="20.6"/><rect x="1459.0" y="-932.4" width="20.6" height="20.6"/><rect x="1246.9" y="-625.5" width="20.6" height="20.6"/><rect x="1089.9" y="-229.5" width="20.6" height="20.6"/><rect x="1184.0" y="-482.0" width="20.6" height="20.6"/><rect x="1285.1" y="-436.0" width="20.6" height="20.6"/>
<rect x="1156.4" y="-191.3" width="20.6" height="20.6"/><rect x="1145.8" y="-245.8" width="20.6" height="20.6"/><rect x="1207.3" y="-246.5" width="20.6" height="20.6"/><rect x="1326.1" y="-595.8" width="20.6" height="20.6"/><rect x="1256.8" y="-520.9" width="20.6" height="20.6"/><rect x="1152.2" y="-363.9" width="20.6" height="20.6"/>
<rect x="1510.7" y="-998.2" width="20.6" height="20.6"/><rect x="1034.8" y="-52.8" width="20.6" height="20.6"/><rect x="1125.3" y="-66.9" width="20.6" height="20.6"/><rect x="1090.6" y="-377.3" width="20.6" height="20.6"/><rect x="1071.5" y="-37.2" width="20.6" height="20.6"/><rect x="1195.3" y="-323.6" width="20.6" height="20.6"/>
<rect x="1350.9" y="-825.6" width="20.6" height="20.6"/><rect x="1398.2" y="-847.5" width="20.6" height="20.6"/><rect x="1225.7" y="-540.7" width="20.6" height="20.6"/><rect x="1075.8" y="-83.9" width="20.6" height="20.6"/><rect x="1089.9" y="12.3" width="20.6" height="20.6"/><rect x="1197.4" y="-436.0" width="20.6" height="20.6"/>
<rect x="1156.4" y="-0.4" width="20.6" height="20.6"/><rect x="1103.4" y="-226.0" width="20.6" height="20.6"/><rect x="1529.0" y="-1033.5" width="20.6" height="20.6"/><rect x="1331.8" y="-479.8" width="20.6" height="20.6"/><rect x="1121.0" y="-54.2" width="20.6" height="20.6"/><rect x="1088.5" y="78.8" width="20.6" height="20.6"/>
<rect x="1425.8" y="-938.8" width="20.6" height="20.6"/><rect x="1145.8" y="-15.3" width="20.6" height="20.6"/><rect x="1121.0" y="102.8" width="20.6" height="20.6"/><rect x="1143.0" y="-486.2" width="20.6" height="20.6"/><rect x="1062.4" y="-61.9" width="20.6" height="20.6"/><rect x="1176.2" y="-505.3" width="20.6" height="20.6"/>
<rect x="1248.3" y="-454.4" width="20.6" height="20.6"/><rect x="1044.7" y="-170.1" width="20.6" height="20.6"/><rect x="1053.2" y="-27.3" width="20.6" height="20.6"/><rect x="1563.0" y="-1092.9" width="20.6" height="20.6"/><rect x="1088.5" y="25.0" width="20.6" height="20.6"/><rect x="1425.8" y="-877.9" width="20.6" height="20.6"/>
<rect x="1601.2" y="-1111.3" width="20.6" height="20.6"/><rect x="1083.6" y="32.8" width="20.6" height="20.6"/><rect x="1400.4" y="-811.5" width="20.6" height="20.6"/><rect x="1551.0" y="-1080.9" width="20.6" height="20.6"/><rect x="1490.2" y="-974.8" width="20.6" height="20.6"/><rect x="1106.2" y="-97.3" width="20.6" height="20.6"/>
<rect x="1132.4" y="-20.2" width="20.6" height="20.6"/><rect x="1101.2" y="-238.0" width="20.6" height="20.6"/><rect x="1122.5" y="59.0" width="20.6" height="20.6"/><rect x="1366.4" y="-750.7" width="20.6" height="20.6"/><rect x="1128.8" y="-5.4" width="20.6" height="20.6"/><rect x="1466.1" y="-890.0" width="20.6" height="20.6"/>
<rect x="1278.7" y="-671.5" width="20.6" height="20.6"/><rect x="1321.9" y="-766.9" width="20.6" height="20.6"/><rect x="1102.7" y="10.9" width="20.6" height="20.6"/><rect x="1075.1" y="-452.3" width="20.6" height="20.6"/><rect x="1150.7" y="-515.2" width="20.6" height="20.6"/><rect x="1222.2" y="-414.1" width="20.6" height="20.6"/>
<rect x="1278.0" y="-655.2" width="20.6" height="20.6"/><rect x="1201.0" y="-631.9" width="20.6" height="20.6"/><rect x="1156.4" y="-62.6" width="20.6" height="20.6"/><rect x="1290.8" y="-716.0" width="20.6" height="20.6"/><rect x="1210.8" y="-156.7" width="20.6" height="20.6"/><rect x="1561.6" y="-1046.2" width="20.6" height="20.6"/>
<rect x="1263.2" y="-660.2" width="20.6" height="20.6"/><rect x="1079.3" y="162.9" width="20.6" height="20.6"/><rect x="1272.4" y="-407.7" width="20.6" height="20.6"/><rect x="1125.3" y="-337.0" width="20.6" height="20.6"/><rect x="1222.9" y="-351.1" width="20.6" height="20.6"/><rect x="1173.4" y="-431.8" width="20.6" height="20.6"/>
<rect x="1188.9" y="-368.1" width="20.6" height="20.6"/><rect x="1107.6" y="68.2" width="20.6" height="20.6"/><rect x="1336.0" y="-601.5" width="20.6" height="20.6"/><rect x="1312.0" y="-567.5" width="20.6" height="20.6"/><rect x="1250.4" y="-482.0" width="20.6" height="20.6"/><rect x="1086.4" y="-127.0" width="20.6" height="20.6"/>
<rect x="1088.5" y="-147.5" width="20.6" height="20.6"/><rect x="1217.2" y="-409.1" width="20.6" height="20.6"/><rect x="1150.7" y="-376.6" width="20.6" height="20.6"/><rect x="1043.3" y="-154.6" width="20.6" height="20.6"/><rect x="1381.3" y="-796.6" width="20.6" height="20.6"/><rect x="1068.7" y="-187.1" width="20.6" height="20.6"/>
<rect x="1138.7" y="-156.7" width="20.6" height="20.6"/><rect x="1100.5" y="-4.0" width="20.6" height="20.6"/><rect x="1048.9" y="-103.7" width="20.6" height="20.6"/><rect x="1190.3" y="-552.0" width="20.6" height="20.6"/><rect x="1431.5" y="-921.8" width="20.6" height="20.6"/><rect x="1204.5" y="-281.9" width="20.6" height="20.6"/>
<rect x="1239.8" y="-638.2" width="20.6" height="20.6"/><rect x="1203.1" y="-513.8" width="20.6" height="20.6"/><rect x="1150.0" y="-322.2" width="20.6" height="20.6"/><rect x="1092.8" y="-279.0" width="20.6" height="20.6"/><rect x="1022.8" y="-54.9" width="20.6" height="20.6"/><rect x="1243.4" y="-373.1" width="20.6" height="20.6"/>
<rect x="1135.2" y="-293.2" width="20.6" height="20.6"/><rect x="1326.1" y="-795.2" width="20.6" height="20.6"/><rect x="1250.4" y="-380.1" width="20.6" height="20.6"/><rect x="1198.8" y="-259.2" width="20.6" height="20.6"/><rect x="1336.7" y="-575.3" width="20.6" height="20.6"/><rect x="1074.4" y="-156.0" width="20.6" height="20.6"/>
<rect x="1030.5" y="-232.4" width="20.6" height="20.6"/><rect x="1112.6" y="-49.9" width="20.6" height="20.6"/><rect x="1601.2" y="-1131.1" width="20.6" height="20.6"/><rect x="1130.9" y="-287.5" width="20.6" height="20.6"/><rect x="1570.8" y="-1027.1" width="20.6" height="20.6"/><rect x="1572.2" y="-1141.7" width="20.6" height="20.6"/>
<rect x="1225.7" y="-298.8" width="20.6" height="20.6"/><rect x="1328.2" y="-838.3" width="20.6" height="20.6"/><rect x="1232.1" y="-644.6" width="20.6" height="20.6"/><rect x="1252.6" y="-543.5" width="20.6" height="20.6"/><rect x="1250.4" y="-552.7" width="20.6" height="20.6"/><rect x="1111.9" y="-269.8" width="20.6" height="20.6"/>
<rect x="1292.2" y="-552.0" width="20.6" height="20.6"/><rect x="1459.0" y="-874.4" width="20.6" height="20.6"/><rect x="1045.4" y="-460.8" width="20.6" height="20.6"/><rect x="1073.7" y="-121.3" width="20.6" height="20.6"/><rect x="1237.7" y="-681.4" width="20.6" height="20.6"/><rect x="1260.3" y="-549.8" width="20.6" height="20.6"/>
<rect x="1122.5" y="-414.8" width="20.6" height="20.6"/><rect x="1051.0" y="90.8" width="20.6" height="20.6"/><rect x="1247.6" y="-510.2" width="20.6" height="20.6"/><rect x="1041.9" y="-124.9" width="20.6" height="20.6"/><rect x="1212.3" y="-252.9" width="20.6" height="20.6"/><rect x="1212.3" y="-599.3" width="20.6" height="20.6"/>
<rect x="1290.0" y="-678.5" width="20.6" height="20.6"/><rect x="1183.3" y="-291.8" width="20.6" height="20.6"/><rect x="1151.5" y="-156.7" width="20.6" height="20.6"/><rect x="1135.2" y="-328.5" width="20.6" height="20.6"/><rect x="1077.9" y="-35.1" width="20.6" height="20.6"/><rect x="1256.1" y="-374.5" width="20.6" height="20.6"/>
<rect x="1631.6" y="-1186.9" width="20.6" height="20.6"/><rect x="1159.2" y="-262.1" width="20.6" height="20.6"/><rect x="1505.0" y="-986.8" width="20.6" height="20.6"/><rect x="1292.9" y="-465.0" width="20.6" height="20.6"/><rect x="1326.8" y="-810.1" width="20.6" height="20.6"/><rect x="1095.6" y="-462.9" width="20.6" height="20.6"/>
<rect x="1080.7" y="-182.2" width="20.6" height="20.6"/><rect x="1020.6" y="-81.0" width="20.6" height="20.6"/><rect x="1139.4" y="-372.4" width="20.6" height="20.6"/><rect x="1093.5" y="-50.6" width="20.6" height="20.6"/><rect x="1352.3" y="-812.9" width="20.6" height="20.6"/><rect x="1297.8" y="-489.7" width="20.6" height="20.6"/>
<rect x="1268.1" y="-518.0" width="20.6" height="20.6"/><rect x="1356.5" y="-747.8" width="20.6" height="20.6"/><rect x="1307.7" y="-710.4" width="20.6" height="20.6"/><rect x="1128.1" y="-247.9" width="20.6" height="20.6"/><rect x="1166.3" y="-571.8" width="20.6" height="20.6"/><rect x="1319.0" y="-498.2" width="20.6" height="20.6"/>
<rect x="1257.5" y="-685.6" width="20.6" height="20.6"/><rect x="1017.1" y="4.5" width="20.6" height="20.6"/><rect x="1128.1" y="-396.4" width="20.6" height="20.6"/><rect x="1156.4" y="-322.9" width="20.6" height="20.6"/><rect x="1198.1" y="-606.4" width="20.6" height="20.6"/><rect x="1209.4" y="-221.7" width="20.6" height="20.6"/>
<rect x="1234.9" y="-588.0" width="20.6" height="20.6"/><rect x="1088.5" y="-451.6" width="20.6" height="20.6"/><rect x="1066.6" y="92.2" width="20.6" height="20.6"/><rect x="1191.8" y="-279.0" width="20.6" height="20.6"/><rect x="1120.3" y="-356.1" width="20.6" height="20.6"/><rect x="1118.9" y="-284.0" width="20.6" height="20.6"/>
<rect x="1323.3" y="-659.4" width="20.6" height="20.6"/><rect x="1524.1" y="-1089.4" width="20.6" height="20.6"/><rect x="1410.3" y="-877.9" width="20.6" height="20.6"/><rect x="1355.8" y="-629.7" width="20.6" height="20.6"/><rect x="1157.1" y="-275.5" width="20.6" height="20.6"/><rect x="1341.7" y="-769.8" width="20.6" height="20.6"/>
<rect x="1159.9" y="-607.8" width="20.6" height="20.6"/><rect x="1307.7" y="-666.5" width="20.6" height="20.6"/><rect x="1076.5" y="-60.5" width="20.6" height="20.6"/><rect x="1309.8" y="-465.0" width="20.6" height="20.6"/><rect x="1120.3" y="-334.9" width="20.6" height="20.6"/><rect x="1382.7" y="-829.2" width="20.6" height="20.6"/>
<rect x="1087.1" y="-1.8" width="20.6" height="20.6"/><rect x="1210.1" y="-675.0" width="20.6" height="20.6"/><rect x="1282.3" y="-707.5" width="20.6" height="20.6"/><rect x="1189.6" y="-402.8" width="20.6" height="20.6"/><rect x="1621.0" y="-1165.0" width="20.6" height="20.6"/><rect x="1164.2" y="-302.4" width="20.6" height="20.6"/>
<rect x="1097.0" y="-31.5" width="20.6" height="20.6"/><rect x="1453.4" y="-898.4" width="20.6" height="20.6"/><rect x="1538.9" y="-1114.1" width="20.6" height="20.6"/><rect x="1022.1" y="-245.1" width="20.6" height="20.6"/><rect x="1030.5" y="-164.5" width="20.6" height="20.6"/><rect x="1357.9" y="-838.3" width="20.6" height="20.6"/>
<rect x="1086.4" y="-155.3" width="20.6" height="20.6"/><rect x="1467.5" y="-902.7" width="20.6" height="20.6"/><rect x="1260.3" y="-445.2" width="20.6" height="20.6"/><rect x="1522.0" y="-1059.0" width="20.6" height="20.6"/><rect x="1473.9" y="-930.3" width="20.6" height="20.6"/><rect x="1185.4" y="-432.5" width="20.6" height="20.6"/>
<rect x="1259.6" y="-481.3" width="20.6" height="20.6"/><rect x="1158.5" y="-46.4" width="20.6" height="20.6"/><rect x="1294.3" y="-493.3" width="20.6" height="20.6"/><rect x="1353.0" y="-774.0" width="20.6" height="20.6"/><rect x="1141.6" y="-190.6" width="20.6" height="20.6"/><rect x="1315.5" y="-696.9" width="20.6" height="20.6"/>
<rect x="1248.3" y="-689.1" width="20.6" height="20.6"/><rect x="1466.8" y="-958.6" width="20.6" height="20.6"/><rect x="1139.4" y="-311.6" width="20.6" height="20.6"/><rect x="1220.0" y="-471.4" width="20.6" height="20.6"/><rect x="1240.5" y="-484.8" width="20.6" height="20.6"/><rect x="1537.5" y="-1090.1" width="20.6" height="20.6"/>
<rect x="1157.8" y="-324.3" width="20.6" height="20.6"/><rect x="1140.1" y="-169.4" width="20.6" height="20.6"/><rect x="1145.1" y="-55.6" width="20.6" height="20.6"/><rect x="1372.8" y="-899.9" width="20.6" height="20.6"/><rect x="1060.9" y="134.6" width="20.6" height="20.6"/><rect x="1138.7" y="-214.7" width="20.6" height="20.6"/>
<rect x="1232.1" y="-457.9" width="20.6" height="20.6"/><rect x="1014.3" y="-230.2" width="20.6" height="20.6"/><rect x="1205.2" y="-715.3" width="20.6" height="20.6"/><rect x="1225.7" y="-554.8" width="20.6" height="20.6"/><rect x="1459.8" y="-861.0" width="20.6" height="20.6"/><rect x="1085.0" y="-412.7" width="20.6" height="20.6"/>
<rect x="1083.6" y="-73.3" width="20.6" height="20.6"/><rect x="1269.5" y="-704.7" width="20.6" height="20.6"/><rect x="1286.5" y="-344.1" width="20.6" height="20.6"/><rect x="1150.7" y="-222.5" width="20.6" height="20.6"/><rect x="1138.7" y="-327.8" width="20.6" height="20.6"/><rect x="1225.0" y="-671.5" width="20.6" height="20.6"/>
<rect x="1365.0" y="-663.0" width="20.6" height="20.6"/><rect x="1131.7" y="-384.4" width="20.6" height="20.6"/><rect x="1268.1" y="-421.9" width="20.6" height="20.6"/><rect x="1075.8" y="-399.2" width="20.6" height="20.6"/><rect x="1119.6" y="10.9" width="20.6" height="20.6"/><rect x="1210.8" y="-620.6" width="20.6" height="20.6"/>
<rect x="1254.0" y="-359.6" width="20.6" height="20.6"/><rect x="1055.3" y="-375.9" width="20.6" height="20.6"/><rect x="1133.8" y="-124.9" width="20.6" height="20.6"/><rect x="1357.2" y="-759.9" width="20.6" height="20.6"/><rect x="1560.9" y="-1148.8" width="20.6" height="20.6"/><rect x="1155.7" y="-487.6" width="20.6" height="20.6"/>
<rect x="1369.2" y="-739.4" width="20.6" height="20.6"/><rect x="1223.6" y="-484.8" width="20.6" height="20.6"/><rect x="1003.7" y="-71.1" width="20.6" height="20.6"/><rect x="1100.5" y="30.0" width="20.6" height="20.6"/><rect x="1058.8" y="119.8" width="20.6" height="20.6"/><rect x="1183.3" y="-518.0" width="20.6" height="20.6"/>
<rect x="1203.8" y="-551.3" width="20.6" height="20.6"/><rect x="1367.8" y="-624.8" width="20.6" height="20.6"/><rect x="1275.9" y="-739.4" width="20.6" height="20.6"/><rect x="1149.3" y="-427.5" width="20.6" height="20.6"/><rect x="1432.9" y="-923.2" width="20.6" height="20.6"/><rect x="1169.1" y="-230.9" width="20.6" height="20.6"/>
<rect x="1633.0" y="-1175.6" width="20.6" height="20.6"/><rect x="1205.2" y="-501.8" width="20.6" height="20.6"/><rect x="1165.6" y="-300.9" width="20.6" height="20.6"/><rect x="1321.9" y="-554.8" width="20.6" height="20.6"/><rect x="1241.3" y="-594.4" width="20.6" height="20.6"/><rect x="1290.8" y="-537.8" width="20.6" height="20.6"/>
<rect x="1153.6" y="18.0" width="20.6" height="20.6"/><rect x="1225.0" y="-655.9" width="20.6" height="20.6"/><rect x="1146.5" y="-365.3" width="20.6" height="20.6"/><rect x="1039.7" y="182.7" width="20.6" height="20.6"/><rect x="1228.5" y="-693.4" width="20.6" height="20.6"/><rect x="1051.0" y="-343.4" width="20.6" height="20.6"/>
<rect x="1115.4" y="-14.6" width="20.6" height="20.6"/><rect x="1087.8" y="-428.2" width="20.6" height="20.6"/><rect x="1028.4" y="-213.3" width="20.6" height="20.6"/><rect x="1176.2" y="-370.9" width="20.6" height="20.6"/><rect x="1068.7" y="-414.8" width="20.6" height="20.6"/><rect x="1275.9" y="-653.1" width="20.6" height="20.6"/>
<rect x="1312.0" y="-665.1" width="20.6" height="20.6"/><rect x="1205.9" y="-567.5" width="20.6" height="20.6"/><rect x="1092.1" y="-53.5" width="20.6" height="20.6"/><rect x="1039.0" y="91.5" width="20.6" height="20.6"/><rect x="1262.5" y="-392.2" width="20.6" height="20.6"/><rect x="1175.5" y="-616.3" width="20.6" height="20.6"/>
<rect x="1295.7" y="-596.5" width="20.6" height="20.6"/><rect x="1130.2" y="-194.9" width="20.6" height="20.6"/><rect x="1181.2" y="-63.4" width="20.6" height="20.6"/><rect x="1227.1" y="-552.0" width="20.6" height="20.6"/><rect x="1077.2" y="-140.4" width="20.6" height="20.6"/><rect x="1268.8" y="-665.8" width="20.6" height="20.6"/>
<rect x="1080.0" y="-153.2" width="20.6" height="20.6"/><rect x="1219.3" y="-552.7" width="20.6" height="20.6"/><rect x="1507.8" y="-930.3" width="20.6" height="20.6"/><rect x="1558.7" y="-1124.0" width="20.6" height="20.6"/><rect x="1030.5" y="-130.5" width="20.6" height="20.6"/><rect x="979.6" y="-122.0" width="20.6" height="20.6"/>
<rect x="1073.7" y="136.0" width="20.6" height="20.6"/><rect x="1320.5" y="-754.2" width="20.6" height="20.6"/><rect x="1370.7" y="-722.4" width="20.6" height="20.6"/><rect x="1115.4" y="-157.4" width="20.6" height="20.6"/><rect x="1246.2" y="-766.2" width="20.6" height="20.6"/><rect x="1152.2" y="-171.5" width="20.6" height="20.6"/>
<rect x="1210.8" y="-484.8" width="20.6" height="20.6"/><rect x="1246.2" y="-415.5" width="20.6" height="20.6"/><rect x="1263.2" y="-648.8" width="20.6" height="20.6"/><rect x="1140.8" y="-143.3" width="20.6" height="20.6"/><rect x="1421.6" y="-917.5" width="20.6" height="20.6"/><rect x="1353.0" y="-665.1" width="20.6" height="20.6"/>
<rect x="1125.3" y="-222.5" width="20.6" height="20.6"/><rect x="1270.2" y="-573.9" width="20.6" height="20.6"/><rect x="1563.0" y="-1074.5" width="20.6" height="20.6"/><rect x="1229.2" y="-583.8" width="20.6" height="20.6"/><rect x="1417.3" y="-844.0" width="20.6" height="20.6"/><rect x="1521.3" y="-1078.1" width="20.6" height="20.6"/>
<rect x="1571.5" y="-1115.5" width="20.6" height="20.6"/><rect x="1274.5" y="-456.5" width="20.6" height="20.6"/><rect x="1093.5" y="-261.3" width="20.6" height="20.6"/><rect x="1022.8" y="-30.8" width="20.6" height="20.6"/><rect x="1295.0" y="-393.6" width="20.6" height="20.6"/><rect x="1201.7" y="-536.4" width="20.6" height="20.6"/>
<rect x="1071.5" y="180.6" width="20.6" height="20.6"/><rect x="1199.5" y="-466.4" width="20.6" height="20.6"/><rect x="1348.7" y="-680.7" width="20.6" height="20.6"/><rect x="1184.7" y="-467.1" width="20.6" height="20.6"/><rect x="1086.4" y="-107.2" width="20.6" height="20.6"/><rect x="1617.4" y="-1131.8" width="20.6" height="20.6"/>
<rect x="1092.1" y="-395.7" width="20.6" height="20.6"/><rect x="1216.5" y="-429.6" width="20.6" height="20.6"/><rect x="1690.3" y="-1170.7" width="20.6" height="20.6"/><rect x="1550.3" y="-1068.9" width="20.6" height="20.6"/><rect x="1070.1" y="-88.1" width="20.6" height="20.6"/><rect x="1241.3" y="-659.4" width="20.6" height="20.6"/>
<rect x="1093.5" y="-302.4" width="20.6" height="20.6"/><rect x="1187.5" y="-625.5" width="20.6" height="20.6"/><rect x="1322.6" y="-640.4" width="20.6" height="20.6"/><rect x="1159.9" y="44.1" width="20.6" height="20.6"/><rect x="1307.0" y="-538.5" width="20.6" height="20.6"/><rect x="1578.5" y="-1047.6" width="20.6" height="20.6"/>
<rect x="1063.8" y="-302.4" width="20.6" height="20.6"/><rect x="1223.6" y="-600.8" width="20.6" height="20.6"/><rect x="1104.8" y="-271.2" width="20.6" height="20.6"/><rect x="1612.5" y="-1107.0" width="20.6" height="20.6"/><rect x="1300.7" y="-567.5" width="20.6" height="20.6"/><rect x="1049.6" y="31.4" width="20.6" height="20.6"/>
<rect x="1212.3" y="-299.5" width="20.6" height="20.6"/><rect x="1176.2" y="-307.3" width="20.6" height="20.6"/><rect x="1299.2" y="-556.2" width="20.6" height="20.6"/><rect x="1513.5" y="-974.1" width="20.6" height="20.6"/><rect x="1554.5" y="-1166.4" width="20.6" height="20.6"/><rect x="1073.7" y="22.9" width="20.6" height="20.6"/>
<rect x="1182.6" y="-251.4" width="20.6" height="20.6"/><rect x="1626.6" y="-1146.6" width="20.6" height="20.6"/><rect x="1220.7" y="-374.5" width="20.6" height="20.6"/><rect x="1311.3" y="-728.0" width="20.6" height="20.6"/><rect x="1046.8" y="-87.4" width="20.6" height="20.6"/><rect x="1311.3" y="-702.6" width="20.6" height="20.6"/>
<rect x="1234.9" y="-510.2" width="20.6" height="20.6"/><rect x="1066.6" y="5.9" width="20.6" height="20.6"/><rect x="1079.3" y="103.5" width="20.6" height="20.6"/><rect x="1178.3" y="-399.9" width="20.6" height="20.6"/><rect x="1326.8" y="-723.8" width="20.6" height="20.6"/><rect x="1164.2" y="-483.4" width="20.6" height="20.6"/>
<rect x="1136.6" y="85.8" width="20.6" height="20.6"/><rect x="1386.9" y="-810.8" width="20.6" height="20.6"/><rect x="1162.8" y="-498.9" width="20.6" height="20.6"/><rect x="1216.5" y="-185.0" width="20.6" height="20.6"/><rect x="1206.6" y="-402.8" width="20.6" height="20.6"/><rect x="1202.4" y="-549.8" width="20.6" height="20.6"/>
<rect x="1034.8" y="-64.1" width="20.6" height="20.6"/><rect x="1297.8" y="-619.8" width="20.6" height="20.6"/><rect x="1195.3" y="-655.9" width="20.6" height="20.6"/><rect x="1101.2" y="-335.6" width="20.6" height="20.6"/><rect x="1299.9" y="-501.8" width="20.6" height="20.6"/><rect x="1075.8" y="49.1" width="20.6" height="20.6"/>
<rect x="1039.7" y="148.8" width="20.6" height="20.6"/><rect x="1058.1" y="187.0" width="20.6" height="20.6"/><rect x="1003.7" y="-11.7" width="20.6" height="20.6"/><rect x="1094.9" y="123.3" width="20.6" height="20.6"/><rect x="1287.2" y="-507.4" width="20.6" height="20.6"/><rect x="1285.1" y="-725.9" width="20.6" height="20.6"/>
<rect x="1085.7" y="118.4" width="20.6" height="20.6"/><rect x="1123.2" y="124.7" width="20.6" height="20.6"/><rect x="1171.3" y="-217.5" width="20.6" height="20.6"/><rect x="1195.3" y="-412.7" width="20.6" height="20.6"/><rect x="1092.1" y="4.5" width="20.6" height="20.6"/><rect x="1227.8" y="-453.7" width="20.6" height="20.6"/>
<rect x="1157.8" y="-180.0" width="20.6" height="20.6"/><rect x="1276.6" y="-588.7" width="20.6" height="20.6"/><rect x="1351.6" y="-734.4" width="20.6" height="20.6"/><rect x="1077.9" y="-23.8" width="20.6" height="20.6"/><rect x="1126.7" y="-45.7" width="20.6" height="20.6"/><rect x="1227.1" y="-498.2" width="20.6" height="20.6"/>
<rect x="1379.8" y="-813.6" width="20.6" height="20.6"/><rect x="1039.7" y="-186.4" width="20.6" height="20.6"/><rect x="1162.8" y="-439.5" width="20.6" height="20.6"/><rect x="1375.6" y="-694.8" width="20.6" height="20.6"/><rect x="1206.6" y="-320.7" width="20.6" height="20.6"/><rect x="1055.3" y="-189.2" width="20.6" height="20.6"/>
<rect x="1159.9" y="-344.8" width="20.6" height="20.6"/><rect x="1143.0" y="-342.0" width="20.6" height="20.6"/><rect x="1325.4" y="-752.1" width="20.6" height="20.6"/><rect x="1169.8" y="-416.9" width="20.6" height="20.6"/><rect x="1541.8" y="-1166.4" width="20.6" height="20.6"/><rect x="1329.6" y="-630.5" width="20.6" height="20.6"/>
<rect x="1541.8" y="-1039.2" width="20.6" height="20.6"/><rect x="1225.0" y="-712.5" width="20.6" height="20.6"/><rect x="1248.3" y="-503.9" width="20.6" height="20.6"/><rect x="1049.6" y="-221.7" width="20.6" height="20.6"/><rect x="1365.0" y="-762.0" width="20.6" height="20.6"/><rect x="1348.7" y="-857.4" width="20.6" height="20.6"/>
<rect x="1106.9" y="-334.2" width="20.6" height="20.6"/><rect x="1108.3" y="-204.1" width="20.6" height="20.6"/><rect x="1462.6" y="-849.7" width="20.6" height="20.6"/><rect x="1529.8" y="-969.2" width="20.6" height="20.6"/><rect x="1227.8" y="-418.3" width="20.6" height="20.6"/><rect x="1123.2" y="-279.7" width="20.6" height="20.6"/>
<rect x="1395.4" y="-836.2" width="20.6" height="20.6"/><rect x="1089.2" y="-240.1" width="20.6" height="20.6"/><rect x="1031.2" y="-142.6" width="20.6" height="20.6"/><rect x="1623.8" y="-1114.1" width="20.6" height="20.6"/><rect x="1210.1" y="-469.9" width="20.6" height="20.6"/><rect x="1131.7" y="-220.3" width="20.6" height="20.6"/>
<rect x="1091.3" y="-109.3" width="20.6" height="20.6"/><rect x="1307.0" y="-351.9" width="20.6" height="20.6"/><rect x="1073.7" y="7.4" width="20.6" height="20.6"/><rect x="1356.5" y="-774.7" width="20.6" height="20.6"/><rect x="1071.5" y="60.4" width="20.6" height="20.6"/><rect x="1255.4" y="-513.8" width="20.6" height="20.6"/>
<rect x="1123.9" y="-263.5" width="20.6" height="20.6"/><rect x="1575.7" y="-1060.4" width="20.6" height="20.6"/><rect x="1203.1" y="-270.5" width="20.6" height="20.6"/><rect x="1143.0" y="-209.0" width="20.6" height="20.6"/><rect x="1246.2" y="-380.1" width="20.6" height="20.6"/><rect x="1403.9" y="-714.6" width="20.6" height="20.6"/>
<rect x="1423.7" y="-867.3" width="20.6" height="20.6"/><rect x="1114.7" y="-367.4" width="20.6" height="20.6"/><rect x="1150.0" y="-189.2" width="20.6" height="20.6"/><rect x="1408.8" y="-829.9" width="20.6" height="20.6"/><rect x="1162.8" y="-284.0" width="20.6" height="20.6"/><rect x="1175.5" y="-425.4" width="20.6" height="20.6"/>
<rect x="1292.2" y="-666.5" width="20.6" height="20.6"/><rect x="1066.6" y="-19.5" width="20.6" height="20.6"/><rect x="1502.2" y="-975.5" width="20.6" height="20.6"/><rect x="1175.5" y="-210.4" width="20.6" height="20.6"/><rect x="1481.0" y="-902.0" width="20.6" height="20.6"/><rect x="1160.6" y="-342.7" width="20.6" height="20.6"/>
<rect x="1051.8" y="-192.8" width="20.6" height="20.6"/><rect x="1273.1" y="-542.8" width="20.6" height="20.6"/><rect x="1056.7" y="-185.0" width="20.6" height="20.6"/><rect x="1102.7" y="-365.3" width="20.6" height="20.6"/><rect x="1560.9" y="-1136.0" width="20.6" height="20.6"/><rect x="1237.7" y="-501.8" width="20.6" height="20.6"/>
<rect x="1094.2" y="-284.7" width="20.6" height="20.6"/><rect x="1127.4" y="-288.2" width="20.6" height="20.6"/><rect x="1147.9" y="-93.8" width="20.6" height="20.6"/><rect x="1107.6" y="-214.7" width="20.6" height="20.6"/><rect x="1176.9" y="-442.4" width="20.6" height="20.6"/><rect x="1184.0" y="-332.1" width="20.6" height="20.6"/>
<rect x="1086.4" y="102.1" width="20.6" height="20.6"/><rect x="1052.5" y="7.4" width="20.6" height="20.6"/><rect x="1437.8" y="-881.5" width="20.6" height="20.6"/><rect x="1164.2" y="-366.0" width="20.6" height="20.6"/><rect x="1083.6" y="-340.5" width="20.6" height="20.6"/><rect x="1060.2" y="-242.3" width="20.6" height="20.6"/>
<rect x="1208.7" y="-651.0" width="20.6" height="20.6"/><rect x="1181.2" y="-421.2" width="20.6" height="20.6"/><rect x="1439.2" y="-950.8" width="20.6" height="20.6"/><rect x="1336.7" y="-671.5" width="20.6" height="20.6"/><rect x="1177.6" y="-552.0" width="20.6" height="20.6"/><rect x="1128.8" y="-32.2" width="20.6" height="20.6"/>
<rect x="1084.3" y="179.2" width="20.6" height="20.6"/><rect x="1446.3" y="-989.0" width="20.6" height="20.6"/><rect x="1204.5" y="-392.2" width="20.6" height="20.6"/><rect x="1538.9" y="-1070.3" width="20.6" height="20.6"/><rect x="1333.2" y="-772.6" width="20.6" height="20.6"/><rect x="1416.6" y="-813.6" width="20.6" height="20.6"/>
<rect x="1034.1" y="-201.9" width="20.6" height="20.6"/><rect x="1097.7" y="-125.6" width="20.6" height="20.6"/><rect x="1017.8" y="-10.3" width="20.6" height="20.6"/><rect x="1316.2" y="-485.5" width="20.6" height="20.6"/><rect x="1572.2" y="-1153.0" width="20.6" height="20.6"/><rect x="1255.4" y="-486.9" width="20.6" height="20.6"/>
<rect x="1159.9" y="-302.4" width="20.6" height="20.6"/><rect x="1334.6" y="-590.2" width="20.6" height="20.6"/><rect x="1222.9" y="-471.4" width="20.6" height="20.6"/><rect x="1672.6" y="-1178.5" width="20.6" height="20.6"/><rect x="1486.6" y="-712.5" width="20.6" height="20.6"/><rect x="1308.4" y="-696.9" width="20.6" height="20.6"/>
<rect x="1639.4" y="-1142.4" width="20.6" height="20.6"/><rect x="1109.7" y="-136.2" width="20.6" height="20.6"/><rect x="1060.9" y="-401.4" width="20.6" height="20.6"/><rect x="1264.6" y="-581.0" width="20.6" height="20.6"/><rect x="1102.0" y="96.4" width="20.6" height="20.6"/><rect x="1120.3" y="-486.2" width="20.6" height="20.6"/>
<rect x="1046.8" y="-360.3" width="20.6" height="20.6"/><rect x="1243.4" y="-637.5" width="20.6" height="20.6"/><rect x="1145.8" y="-312.3" width="20.6" height="20.6"/><rect x="1131.7" y="8.8" width="20.6" height="20.6"/><rect x="1215.8" y="-518.0" width="20.6" height="20.6"/><rect x="1268.8" y="-672.9" width="20.6" height="20.6"/>
<rect x="1242.7" y="-537.8" width="20.6" height="20.6"/><rect x="1280.9" y="-581.7" width="20.6" height="20.6"/><rect x="1555.2" y="-1059.7" width="20.6" height="20.6"/><rect x="1159.2" y="-105.1" width="20.6" height="20.6"/><rect x="1140.1" y="-131.2" width="20.6" height="20.6"/><rect x="1162.1" y="-537.8" width="20.6" height="20.6"/>
<rect x="1004.4" y="20.1" width="20.6" height="20.6"/><rect x="1125.3" y="-192.8" width="20.6" height="20.6"/><rect x="1307.7" y="-496.8" width="20.6" height="20.6"/><rect x="1555.9" y="-1075.9" width="20.6" height="20.6"/><rect x="1100.5" y="-12.4" width="20.6" height="20.6"/><rect x="1203.8" y="-637.5" width="20.6" height="20.6"/>
<rect x="1262.5" y="-744.3" width="20.6" height="20.6"/><rect x="1195.3" y="-254.3" width="20.6" height="20.6"/><rect x="1253.3" y="-535.7" width="20.6" height="20.6"/><rect x="1184.7" y="-218.2" width="20.6" height="20.6"/><rect x="1076.5" y="-364.6" width="20.6" height="20.6"/><rect x="1150.7" y="-529.3" width="20.6" height="20.6"/>
<rect x="1154.3" y="-381.6" width="20.6" height="20.6"/><rect x="1397.5" y="-924.6" width="20.6" height="20.6"/><rect x="1169.1" y="-434.6" width="20.6" height="20.6"/><rect x="1229.9" y="-392.2" width="20.6" height="20.6"/><rect x="990.9" y="-65.5" width="20.6" height="20.6"/><rect x="1141.6" y="15.8" width="20.6" height="20.6"/>
<rect x="1605.4" y="-1203.2" width="20.6" height="20.6"/><rect x="1422.3" y="-950.8" width="20.6" height="20.6"/><rect x="1271.0" y="-849.0" width="20.6" height="20.6"/><rect x="1324.7" y="-676.4" width="20.6" height="20.6"/><rect x="1481.7" y="-916.8" width="20.6" height="20.6"/><rect x="1140.1" y="-243.0" width="20.6" height="20.6"/>
<rect x="1572.2" y="-955.0" width="20.6" height="20.6"/><rect x="1052.5" y="-330.6" width="20.6" height="20.6"/><rect x="1180.4" y="-286.1" width="20.6" height="20.6"/><rect x="1089.9" y="-71.1" width="20.6" height="20.6"/><rect x="1621.0" y="-1169.3" width="20.6" height="20.6"/><rect x="1092.1" y="-223.2" width="20.6" height="20.6"/>
<rect x="1173.4" y="-382.3" width="20.6" height="20.6"/><rect x="1381.3" y="-799.5" width="20.6" height="20.6"/><rect x="1169.1" y="-61.2" width="20.6" height="20.6"/><rect x="1178.3" y="-337.7" width="20.6" height="20.6"/><rect x="1184.7" y="-272.0" width="20.6" height="20.6"/><rect x="1152.2" y="-235.2" width="20.6" height="20.6"/>
<rect x="1517.7" y="-1026.4" width="20.6" height="20.6"/><rect x="1215.1" y="-441.0" width="20.6" height="20.6"/><rect x="1540.4" y="-910.5" width="20.6" height="20.6"/><rect x="1207.3" y="-338.4" width="20.6" height="20.6"/><rect x="1234.2" y="-400.6" width="20.6" height="20.6"/><rect x="1596.9" y="-879.4" width="20.6" height="20.6"/>
<rect x="1041.1" y="11.6" width="20.6" height="20.6"/><rect x="1287.9" y="-577.4" width="20.6" height="20.6"/><rect x="1121.8" y="13.0" width="20.6" height="20.6"/><rect x="1382.0" y="-777.5" width="20.6" height="20.6"/><rect x="1126.0" y="-367.4" width="20.6" height="20.6"/><rect x="1081.4" y="-160.2" width="20.6" height="20.6"/>
<rect x="1391.9" y="-822.8" width="20.6" height="20.6"/><rect x="1052.5" y="-152.5" width="20.6" height="20.6"/><rect x="1191.8" y="-355.4" width="20.6" height="20.6"/><rect x="1123.2" y="-193.5" width="20.6" height="20.6"/><rect x="1108.3" y="-51.3" width="20.6" height="20.6"/><rect x="1062.4" y="-94.5" width="20.6" height="20.6"/>
<rect x="1123.9" y="46.2" width="20.6" height="20.6"/><rect x="1135.2" y="-274.8" width="20.6" height="20.6"/><rect x="993.1" y="20.1" width="20.6" height="20.6"/><rect x="1299.9" y="-596.5" width="20.6" height="20.6"/><rect x="1092.8" y="-385.1" width="20.6" height="20.6"/><rect x="1239.1" y="-472.1" width="20.6" height="20.6"/>
<rect x="1201.0" y="-230.2" width="20.6" height="20.6"/><rect x="1123.9" y="-272.0" width="20.6" height="20.6"/><rect x="1108.3" y="156.6" width="20.6" height="20.6"/><rect x="1271.0" y="-495.4" width="20.6" height="20.6"/><rect x="1297.8" y="-581.7" width="20.6" height="20.6"/><rect x="1215.1" y="-199.1" width="20.6" height="20.6"/>
<rect x="1595.5" y="-1148.1" width="20.6" height="20.6"/><rect x="1425.1" y="-823.5" width="20.6" height="20.6"/><rect x="1292.2" y="-560.5" width="20.6" height="20.6"/><rect x="1074.4" y="-158.8" width="20.6" height="20.6"/><rect x="1282.3" y="-544.9" width="20.6" height="20.6"/><rect x="1357.2" y="-826.3" width="20.6" height="20.6"/>
<rect x="1384.8" y="-923.2" width="20.6" height="20.6"/><rect x="1319.0" y="-731.6" width="20.6" height="20.6"/><rect x="1526.2" y="-985.4" width="20.6" height="20.6"/><rect x="1029.1" y="-6.1" width="20.6" height="20.6"/><rect x="1064.5" y="73.1" width="20.6" height="20.6"/><rect x="1147.9" y="-460.0" width="20.6" height="20.6"/>
<rect x="1048.9" y="-397.8" width="20.6" height="20.6"/><rect x="1199.5" y="-245.8" width="20.6" height="20.6"/><rect x="1214.4" y="-540.7" width="20.6" height="20.6"/><rect x="1328.9" y="-708.9" width="20.6" height="20.6"/><rect x="1200.2" y="-293.2" width="20.6" height="20.6"/><rect x="1267.4" y="-674.3" width="20.6" height="20.6"/>
<rect x="1275.9" y="-603.6" width="20.6" height="20.6"/><rect x="1311.3" y="-585.2" width="20.6" height="20.6"/><rect x="1470.4" y="-956.4" width="20.6" height="20.6"/><rect x="1367.1" y="-789.6" width="20.6" height="20.6"/><rect x="1059.5" y="54.0" width="20.6" height="20.6"/><rect x="1194.6" y="-566.1" width="20.6" height="20.6"/>
<rect x="1200.2" y="-225.3" width="20.6" height="20.6"/><rect x="1235.6" y="-598.6" width="20.6" height="20.6"/><rect x="1172.0" y="-651.0" width="20.6" height="20.6"/><rect x="1462.6" y="-831.3" width="20.6" height="20.6"/><rect x="1089.2" y="145.9" width="20.6" height="20.6"/><rect x="1176.9" y="-303.8" width="20.6" height="20.6"/>
<rect x="1238.4" y="-464.3" width="20.6" height="20.6"/><rect x="1138.7" y="-262.8" width="20.6" height="20.6"/><rect x="1223.6" y="-486.2" width="20.6" height="20.6"/><rect x="1149.3" y="-404.9" width="20.6" height="20.6"/><rect x="1124.6" y="-117.1" width="20.6" height="20.6"/><rect x="1148.6" y="35.6" width="20.6" height="20.6"/>
<rect x="1278.7" y="-510.2" width="20.6" height="20.6"/><rect x="1435.0" y="-994.6" width="20.6" height="20.6"/><rect x="1104.1" y="-311.6" width="20.6" height="20.6"/><rect x="1122.5" y="138.2" width="20.6" height="20.6"/><rect x="1015.0" y="125.4" width="20.6" height="20.6"/><rect x="1049.6" y="42.7" width="20.6" height="20.6"/>
<rect x="1091.3" y="-34.4" width="20.6" height="20.6"/><rect x="1520.6" y="-1015.1" width="20.6" height="20.6"/><rect x="1069.4" y="-45.0" width="20.6" height="20.6"/><rect x="1047.5" y="-86.7" width="20.6" height="20.6"/><rect x="1281.6" y="-545.6" width="20.6" height="20.6"/><rect x="1239.8" y="-461.5" width="20.6" height="20.6"/>
<rect x="1143.7" y="-461.5" width="20.6" height="20.6"/><rect x="1221.5" y="-478.4" width="20.6" height="20.6"/><rect x="1326.8" y="-739.4" width="20.6" height="20.6"/><rect x="1169.8" y="-201.9" width="20.6" height="20.6"/><rect x="1420.9" y="-853.2" width="20.6" height="20.6"/><rect x="1053.2" y="-75.4" width="20.6" height="20.6"/>
<rect x="1112.6" y="-202.7" width="20.6" height="20.6"/><rect x="1061.7" y="-23.1" width="20.6" height="20.6"/><rect x="1220.7" y="-310.8" width="20.6" height="20.6"/><rect x="1500.1" y="-1030.0" width="20.6" height="20.6"/><rect x="1225.0" y="-395.7" width="20.6" height="20.6"/><rect x="1654.2" y="-1192.6" width="20.6" height="20.6"/>
<rect x="1177.6" y="-338.4" width="20.6" height="20.6"/><rect x="1167.7" y="-431.8" width="20.6" height="20.6"/><rect x="1376.3" y="-858.1" width="20.6" height="20.6"/><rect x="1102.0" y="-361.8" width="20.6" height="20.6"/><rect x="1012.2" y="-92.3" width="20.6" height="20.6"/><rect x="1337.4" y="-682.1" width="20.6" height="20.6"/>
<rect x="1042.6" y="-98.7" width="20.6" height="20.6"/><rect x="1167.0" y="-487.6" width="20.6" height="20.6"/><rect x="1324.0" y="-655.9" width="20.6" height="20.6"/><rect x="1087.8" y="134.6" width="20.6" height="20.6"/><rect x="1202.4" y="-510.2" width="20.6" height="20.6"/><rect x="1321.2" y="-617.7" width="20.6" height="20.6"/>
<rect x="1447.7" y="-926.7" width="20.6" height="20.6"/><rect x="1193.2" y="-451.6" width="20.6" height="20.6"/><rect x="1248.3" y="-658.0" width="20.6" height="20.6"/><rect x="1208.7" y="-482.7" width="20.6" height="20.6"/><rect x="1085.0" y="127.6" width="20.6" height="20.6"/><rect x="1085.0" y="-353.3" width="20.6" height="20.6"/>
<rect x="1097.0" y="-440.2" width="20.6" height="20.6"/><rect x="1265.3" y="-663.7" width="20.6" height="20.6"/><rect x="1195.3" y="-241.5" width="20.6" height="20.6"/><rect x="1183.3" y="-239.4" width="20.6" height="20.6"/><rect x="1227.1" y="-262.1" width="20.6" height="20.6"/><rect x="1128.1" y="-310.1" width="20.6" height="20.6"/>
<rect x="1126.0" y="-233.1" width="20.6" height="20.6"/><rect x="1074.4" y="-72.5" width="20.6" height="20.6"/><rect x="1101.2" y="-474.2" width="20.6" height="20.6"/><rect x="1112.6" y="-151.7" width="20.6" height="20.6"/><rect x="1373.5" y="-842.6" width="20.6" height="20.6"/><rect x="1126.0" y="-346.2" width="20.6" height="20.6"/>
<rect x="1414.5" y="-928.9" width="20.6" height="20.6"/><rect x="1328.9" y="-696.2" width="20.6" height="20.6"/><rect x="1056.7" y="-100.1" width="20.6" height="20.6"/><rect x="1106.9" y="-486.9" width="20.6" height="20.6"/><rect x="1053.9" y="106.3" width="20.6" height="20.6"/><rect x="1068.7" y="-175.8" width="20.6" height="20.6"/>
<rect x="1248.3" y="-226.7" width="20.6" height="20.6"/><rect x="1405.3" y="-833.4" width="20.6" height="20.6"/><rect x="1457.6" y="-957.8" width="20.6" height="20.6"/><rect x="1336.0" y="-693.4" width="20.6" height="20.6"/><rect x="1072.3" y="-426.8" width="20.6" height="20.6"/><rect x="1084.3" y="-440.2" width="20.6" height="20.6"/>
<rect x="1642.9" y="-1194.0" width="20.6" height="20.6"/><rect x="1073.0" y="-440.2" width="20.6" height="20.6"/><rect x="1128.8" y="-200.5" width="20.6" height="20.6"/><rect x="1102.7" y="-380.8" width="20.6" height="20.6"/><rect x="1117.5" y="-190.6" width="20.6" height="20.6"/><rect x="1263.2" y="-547.0" width="20.6" height="20.6"/>
<rect x="1490.9" y="-955.7" width="20.6" height="20.6"/><rect x="1062.4" y="-213.3" width="20.6" height="20.6"/><rect x="1196.0" y="-318.6" width="20.6" height="20.6"/><rect x="1280.1" y="-388.6" width="20.6" height="20.6"/><rect x="1234.2" y="-498.2" width="20.6" height="20.6"/><rect x="1186.1" y="-529.3" width="20.6" height="20.6"/>
<rect x="1497.9" y="-862.4" width="20.6" height="20.6"/><rect x="1135.2" y="-184.3" width="20.6" height="20.6"/><rect x="1517.0" y="-955.0" width="20.6" height="20.6"/><rect x="1077.9" y="-112.9" width="20.6" height="20.6"/><rect x="1470.4" y="-993.2" width="20.6" height="20.6"/><rect x="1500.8" y="-943.0" width="20.6" height="20.6"/>
<rect x="1063.8" y="-127.0" width="20.6" height="20.6"/><rect x="1403.9" y="-815.0" width="20.6" height="20.6"/><rect x="1269.5" y="-683.5" width="20.6" height="20.6"/><rect x="1133.1" y="-105.8" width="20.6" height="20.6"/><rect x="1130.9" y="-49.9" width="20.6" height="20.6"/><rect x="1437.1" y="-910.5" width="20.6" height="20.6"/>
<rect x="1085.7" y="-406.3" width="20.6" height="20.6"/><rect x="1173.4" y="-639.6" width="20.6" height="20.6"/><rect x="1123.9" y="-66.9" width="20.6" height="20.6"/><rect x="1180.4" y="-576.0" width="20.6" height="20.6"/><rect x="1609.7" y="-1136.7" width="20.6" height="20.6"/><rect x="1248.3" y="-543.5" width="20.6" height="20.6"/>
<rect x="1075.1" y="-125.6" width="20.6" height="20.6"/><rect x="1104.1" y="-393.6" width="20.6" height="20.6"/><rect x="1076.5" y="-40.7" width="20.6" height="20.6"/><rect x="1104.8" y="-284.0" width="20.6" height="20.6"/><rect x="1136.6" y="-334.2" width="20.6" height="20.6"/><rect x="1245.5" y="-699.0" width="20.6" height="20.6"/>
<rect x="1329.6" y="-780.4" width="20.6" height="20.6"/><rect x="1246.9" y="-423.3" width="20.6" height="20.6"/><rect x="1313.4" y="-583.1" width="20.6" height="20.6"/><rect x="1269.5" y="-605.7" width="20.6" height="20.6"/><rect x="1175.5" y="-275.5" width="20.6" height="20.6"/><rect x="1222.2" y="-221.7" width="20.6" height="20.6"/>
<rect x="1299.9" y="-597.9" width="20.6" height="20.6"/><rect x="1210.1" y="-629.7" width="20.6" height="20.6"/><rect x="1307.7" y="-602.9" width="20.6" height="20.6"/><rect x="1204.5" y="-649.5" width="20.6" height="20.6"/><rect x="1099.8" y="-202.7" width="20.6" height="20.6"/><rect x="1145.1" y="-297.4" width="20.6" height="20.6"/>
<rect x="1276.6" y="-533.6" width="20.6" height="20.6"/><rect x="1628.0" y="-1133.9" width="20.6" height="20.6"/><rect x="1162.8" y="-156.7" width="20.6" height="20.6"/><rect x="1360.0" y="-850.4" width="20.6" height="20.6"/><rect x="1256.1" y="-473.5" width="20.6" height="20.6"/><rect x="1604.7" y="-1191.2" width="20.6" height="20.6"/>
<rect x="1271.7" y="-507.4" width="20.6" height="20.6"/><rect x="1092.1" y="100.7" width="20.6" height="20.6"/><rect x="1106.9" y="-160.2" width="20.6" height="20.6"/><rect x="1540.4" y="-985.4" width="20.6" height="20.6"/><rect x="1246.2" y="-548.4" width="20.6" height="20.6"/><rect x="1551.7" y="-1013.7" width="20.6" height="20.6"/>
<rect x="1388.3" y="-904.1" width="20.6" height="20.6"/><rect x="1277.3" y="-539.9" width="20.6" height="20.6"/><rect x="1309.1" y="-618.4" width="20.6" height="20.6"/><rect x="1172.0" y="-296.0" width="20.6" height="20.6"/><rect x="1181.9" y="-564.7" width="20.6" height="20.6"/><rect x="1342.4" y="-749.3" width="20.6" height="20.6"/>
<rect x="1066.6" y="104.9" width="20.6" height="20.6"/><rect x="1104.1" y="-150.3" width="20.6" height="20.6"/><rect x="1070.1" y="-7.5" width="20.6" height="20.6"/><rect x="1075.8" y="75.9" width="20.6" height="20.6"/><rect x="1256.1" y="-426.8" width="20.6" height="20.6"/><rect x="1408.8" y="-893.5" width="20.6" height="20.6"/>
<rect x="1033.4" y="-75.4" width="20.6" height="20.6"/><rect x="1087.8" y="41.3" width="20.6" height="20.6"/><rect x="1215.8" y="-587.3" width="20.6" height="20.6"/><rect x="1183.3" y="-390.7" width="20.6" height="20.6"/><rect x="1299.2" y="-649.5" width="20.6" height="20.6"/><rect x="1084.3" y="90.1" width="20.6" height="20.6"/>
<rect x="1237.7" y="-670.1" width="20.6" height="20.6"/><rect x="1117.5" y="-39.3" width="20.6" height="20.6"/><rect x="1251.9" y="-456.5" width="20.6" height="20.6"/><rect x="1215.1" y="-233.1" width="20.6" height="20.6"/><rect x="1352.3" y="-687.0" width="20.6" height="20.6"/><rect x="1286.5" y="-677.8" width="20.6" height="20.6"/>
<rect x="1082.9" y="-363.9" width="20.6" height="20.6"/><rect x="1315.5" y="-688.4" width="20.6" height="20.6"/><rect x="1263.2" y="-630.5" width="20.6" height="20.6"/><rect x="1297.1" y="-698.3" width="20.6" height="20.6"/><rect x="1394.0" y="-861.7" width="20.6" height="20.6"/><rect x="1612.5" y="-1126.8" width="20.6" height="20.6"/>
<rect x="1067.3" y="-146.1" width="20.6" height="20.6"/><rect x="1122.5" y="-187.1" width="20.6" height="20.6"/><rect x="1164.9" y="-174.4" width="20.6" height="20.6"/><rect x="1160.6" y="-21.6" width="20.6" height="20.6"/><rect x="1430.1" y="-824.2" width="20.6" height="20.6"/><rect x="1137.3" y="30.0" width="20.6" height="20.6"/>
<rect x="1297.1" y="-730.9" width="20.6" height="20.6"/><rect x="1198.8" y="-621.3" width="20.6" height="20.6"/><rect x="1018.5" y="59.7" width="20.6" height="20.6"/><rect x="1095.6" y="213.1" width="20.6" height="20.6"/><rect x="1181.2" y="-398.5" width="20.6" height="20.6"/><rect x="1094.2" y="-4.7" width="20.6" height="20.6"/>
<rect x="1316.9" y="-629.0" width="20.6" height="20.6"/><rect x="1263.2" y="-459.3" width="20.6" height="20.6"/><rect x="1280.1" y="-600.8" width="20.6" height="20.6"/><rect x="1219.3" y="-459.3" width="20.6" height="20.6"/><rect x="1638.6" y="-1099.3" width="20.6" height="20.6"/><rect x="1459.0" y="-1000.3" width="20.6" height="20.6"/>
<rect x="1083.6" y="65.3" width="20.6" height="20.6"/><rect x="1296.4" y="-679.2" width="20.6" height="20.6"/><rect x="1195.3" y="-490.4" width="20.6" height="20.6"/><rect x="1148.6" y="-438.1" width="20.6" height="20.6"/><rect x="1162.8" y="-347.6" width="20.6" height="20.6"/><rect x="1251.2" y="-680.7" width="20.6" height="20.6"/>
<rect x="1222.2" y="-398.5" width="20.6" height="20.6"/><rect x="1150.7" y="-431.8" width="20.6" height="20.6"/><rect x="1618.1" y="-1201.8" width="20.6" height="20.6"/><rect x="1174.1" y="-487.6" width="20.6" height="20.6"/><rect x="1606.8" y="-1143.8" width="20.6" height="20.6"/><rect x="1348.0" y="-648.8" width="20.6" height="20.6"/>
<rect x="1200.2" y="-212.6" width="20.6" height="20.6"/><rect x="1325.4" y="-578.1" width="20.6" height="20.6"/><rect x="1242.7" y="-363.9" width="20.6" height="20.6"/><rect x="1100.5" y="-408.4" width="20.6" height="20.6"/><rect x="1053.9" y="-209.0" width="20.6" height="20.6"/><rect x="1471.1" y="-862.4" width="20.6" height="20.6"/>
<rect x="1101.2" y="145.2" width="20.6" height="20.6"/><rect x="1116.8" y="-397.8" width="20.6" height="20.6"/><rect x="1213.7" y="-419.7" width="20.6" height="20.6"/><rect x="1208.0" y="-227.4" width="20.6" height="20.6"/><rect x="1306.3" y="-508.1" width="20.6" height="20.6"/><rect x="1278.0" y="-693.4" width="20.6" height="20.6"/>
<rect x="1215.8" y="-386.5" width="20.6" height="20.6"/><rect x="1093.5" y="56.9" width="20.6" height="20.6"/><rect x="1407.4" y="-790.3" width="20.6" height="20.6"/><rect x="1197.4" y="-424.7" width="20.6" height="20.6"/><rect x="1181.9" y="-604.3" width="20.6" height="20.6"/><rect x="1201.0" y="-226.0" width="20.6" height="20.6"/>
<rect x="1096.3" y="-353.3" width="20.6" height="20.6"/><rect x="1181.2" y="-217.5" width="20.6" height="20.6"/><rect x="1208.7" y="-441.7" width="20.6" height="20.6"/><rect x="1435.0" y="-908.3" width="20.6" height="20.6"/><rect x="1369.9" y="-778.2" width="20.6" height="20.6"/><rect x="1272.4" y="-631.2" width="20.6" height="20.6"/>
<rect x="1053.2" y="19.4" width="20.6" height="20.6"/><rect x="1441.4" y="-897.7" width="20.6" height="20.6"/><rect x="1132.4" y="-109.3" width="20.6" height="20.6"/><rect x="1128.8" y="-439.5" width="20.6" height="20.6"/><rect x="1379.8" y="-658.0" width="20.6" height="20.6"/><rect x="1174.1" y="-436.7" width="20.6" height="20.6"/>
<rect x="1609.0" y="-1147.4" width="20.6" height="20.6"/><rect x="1606.8" y="-1172.1" width="20.6" height="20.6"/><rect x="1137.3" y="-36.5" width="20.6" height="20.6"/><rect x="1221.5" y="-590.2" width="20.6" height="20.6"/><rect x="1027.0" y="-103.0" width="20.6" height="20.6"/><rect x="1040.4" y="-386.5" width="20.6" height="20.6"/>
<rect x="1528.3" y="-950.8" width="20.6" height="20.6"/><rect x="1109.7" y="-110.7" width="20.6" height="20.6"/><rect x="1063.8" y="154.4" width="20.6" height="20.6"/><rect x="1607.5" y="-1157.3" width="20.6" height="20.6"/><rect x="1623.8" y="-1214.5" width="20.6" height="20.6"/><rect x="1087.1" y="-25.9" width="20.6" height="20.6"/>
<rect x="1104.1" y="129.7" width="20.6" height="20.6"/><rect x="1010.7" y="-109.3" width="20.6" height="20.6"/><rect x="1086.4" y="-83.2" width="20.6" height="20.6"/><rect x="1399.6" y="-659.4" width="20.6" height="20.6"/><rect x="1637.9" y="-1155.1" width="20.6" height="20.6"/><rect x="1067.3" y="167.9" width="20.6" height="20.6"/>
<rect x="1200.2" y="-368.1" width="20.6" height="20.6"/><rect x="1125.3" y="-182.9" width="20.6" height="20.6"/><rect x="1082.9" y="-242.3" width="20.6" height="20.6"/><rect x="1099.1" y="-33.7" width="20.6" height="20.6"/><rect x="1448.4" y="-861.0" width="20.6" height="20.6"/><rect x="1128.8" y="-342.0" width="20.6" height="20.6"/>
<rect x="1249.7" y="-667.9" width="20.6" height="20.6"/><rect x="1112.6" y="-170.1" width="20.6" height="20.6"/><rect x="1162.1" y="-392.2" width="20.6" height="20.6"/><rect x="1145.1" y="-174.4" width="20.6" height="20.6"/><rect x="1079.3" y="-74.7" width="20.6" height="20.6"/><rect x="1410.3" y="-778.9" width="20.6" height="20.6"/>
<rect x="1338.1" y="-661.6" width="20.6" height="20.6"/><rect x="1064.5" y="-49.9" width="20.6" height="20.6"/><rect x="1152.9" y="-250.0" width="20.6" height="20.6"/><rect x="1161.4" y="-186.4" width="20.6" height="20.6"/><rect x="1363.6" y="-680.0" width="20.6" height="20.6"/><rect x="1231.4" y="-502.5" width="20.6" height="20.6"/>
<rect x="1156.4" y="-209.7" width="20.6" height="20.6"/><rect x="1116.8" y="-303.1" width="20.6" height="20.6"/><rect x="1070.1" y="-198.4" width="20.6" height="20.6"/><rect x="1276.6" y="-585.9" width="20.6" height="20.6"/><rect x="1366.4" y="-537.1" width="20.6" height="20.6"/><rect x="1406.7" y="-857.4" width="20.6" height="20.6"/>
<rect x="1196.0" y="-496.8" width="20.6" height="20.6"/><rect x="1159.9" y="-385.8" width="20.6" height="20.6"/><rect x="1370.7" y="-924.6" width="20.6" height="20.6"/><rect x="1217.2" y="-574.6" width="20.6" height="20.6"/><rect x="1493.7" y="-991.1" width="20.6" height="20.6"/><rect x="1246.9" y="-598.6" width="20.6" height="20.6"/>
<rect x="1278.0" y="-642.5" width="20.6" height="20.6"/><rect x="1581.4" y="-1126.8" width="20.6" height="20.6"/><rect x="1098.4" y="-365.3" width="20.6" height="20.6"/><rect x="1234.9" y="-218.9" width="20.6" height="20.6"/><rect x="1355.8" y="-789.6" width="20.6" height="20.6"/><rect x="1113.3" y="-411.3" width="20.6" height="20.6"/>
<rect x="1174.8" y="-263.5" width="20.6" height="20.6"/><rect x="1288.6" y="-449.4" width="20.6" height="20.6"/><rect x="1294.3" y="-648.8" width="20.6" height="20.6"/><rect x="1218.6" y="-529.3" width="20.6" height="20.6"/><rect x="1585.6" y="-1163.6" width="20.6" height="20.6"/><rect x="1546.7" y="-998.9" width="20.6" height="20.6"/>
<rect x="1619.6" y="-1153.7" width="20.6" height="20.6"/><rect x="1086.4" y="-196.3" width="20.6" height="20.6"/><rect x="1271.0" y="-556.2" width="20.6" height="20.6"/><rect x="1148.6" y="-390.0" width="20.6" height="20.6"/><rect x="1039.7" y="-103.0" width="20.6" height="20.6"/><rect x="1480.3" y="-1078.1" width="20.6" height="20.6"/>
<rect x="1640.8" y="-1129.7" width="20.6" height="20.6"/><rect x="1228.5" y="-656.6" width="20.6" height="20.6"/><rect x="1216.5" y="-210.4" width="20.6" height="20.6"/><rect x="1279.4" y="-751.4" width="20.6" height="20.6"/><rect x="1121.0" y="-95.2" width="20.6" height="20.6"/><rect x="1343.8" y="-825.6" width="20.6" height="20.6"/>
<rect x="1265.3" y="-535.0" width="20.6" height="20.6"/><rect x="1442.1" y="-938.0" width="20.6" height="20.6"/><rect x="1081.4" y="63.2" width="20.6" height="20.6"/><rect x="1116.8" y="-252.2" width="20.6" height="20.6"/><rect x="1275.2" y="-560.5" width="20.6" height="20.6"/><rect x="1244.1" y="-612.8" width="20.6" height="20.6"/>
<rect x="1352.3" y="-801.6" width="20.6" height="20.6"/><rect x="1271.0" y="-618.4" width="20.6" height="20.6"/><rect x="1044.7" y="-233.8" width="20.6" height="20.6"/><rect x="1107.6" y="-425.4" width="20.6" height="20.6"/><rect x="1179.0" y="-266.3" width="20.6" height="20.6"/><rect x="1176.2" y="-628.3" width="20.6" height="20.6"/>
<rect x="1115.4" y="-1.8" width="20.6" height="20.6"/><rect x="1584.2" y="-1109.9" width="20.6" height="20.6"/><rect x="1313.4" y="-720.3" width="20.6" height="20.6"/><rect x="1577.8" y="-1095.0" width="20.6" height="20.6"/><rect x="1150.7" y="-499.6" width="20.6" height="20.6"/><rect x="1140.1" y="-105.8" width="20.6" height="20.6"/>
<rect x="1115.4" y="23.6" width="20.6" height="20.6"/><rect x="1366.4" y="-810.1" width="20.6" height="20.6"/><rect x="1219.3" y="-547.0" width="20.6" height="20.6"/><rect x="1034.8" y="-40.0" width="20.6" height="20.6"/><rect x="1109.7" y="-93.8" width="20.6" height="20.6"/><rect x="1279.4" y="-652.4" width="20.6" height="20.6"/>
<rect x="1058.8" y="-88.1" width="20.6" height="20.6"/><rect x="1126.7" y="-329.9" width="20.6" height="20.6"/><rect x="1116.8" y="-57.0" width="20.6" height="20.6"/><rect x="1109.0" y="-349.0" width="20.6" height="20.6"/><rect x="1139.4" y="-502.5" width="20.6" height="20.6"/><rect x="1034.8" y="-24.5" width="20.6" height="20.6"/>
<rect x="1227.1" y="-625.5" width="20.6" height="20.6"/><rect x="1198.8" y="-639.6" width="20.6" height="20.6"/><rect x="1206.6" y="-572.5" width="20.6" height="20.6"/><rect x="1018.5" y="-43.6" width="20.6" height="20.6"/><rect x="1121.0" y="-23.1" width="20.6" height="20.6"/><rect x="990.9" y="-16.0" width="20.6" height="20.6"/>
<rect x="1348.0" y="-597.9" width="20.6" height="20.6"/><rect x="1340.3" y="-734.4" width="20.6" height="20.6"/><rect x="1077.2" y="-322.9" width="20.6" height="20.6"/><rect x="1087.1" y="-317.2" width="20.6" height="20.6"/><rect x="1444.2" y="-807.2" width="20.6" height="20.6"/><rect x="1111.1" y="-182.9" width="20.6" height="20.6"/>
<rect x="1429.3" y="-894.2" width="20.6" height="20.6"/><rect x="1184.0" y="-664.4" width="20.6" height="20.6"/><rect x="1128.8" y="-136.9" width="20.6" height="20.6"/><rect x="1206.6" y="-579.5" width="20.6" height="20.6"/><rect x="1466.8" y="-981.2" width="20.6" height="20.6"/><rect x="1221.5" y="-542.1" width="20.6" height="20.6"/>
<rect x="1333.2" y="-851.8" width="20.6" height="20.6"/><rect x="1246.9" y="-389.3" width="20.6" height="20.6"/><rect x="1111.9" y="-388.6" width="20.6" height="20.6"/><rect x="1321.9" y="-716.0" width="20.6" height="20.6"/><rect x="1377.0" y="-911.2" width="20.6" height="20.6"/><rect x="1370.7" y="-706.8" width="20.6" height="20.6"/>
<rect x="1215.1" y="-221.7" width="20.6" height="20.6"/><rect x="1344.5" y="-628.3" width="20.6" height="20.6"/><rect x="1118.9" y="-269.8" width="20.6" height="20.6"/><rect x="1102.7" y="29.3" width="20.6" height="20.6"/><rect x="1288.6" y="-517.3" width="20.6" height="20.6"/><rect x="1048.2" y="-57.7" width="20.6" height="20.6"/>
<rect x="1242.0" y="-351.9" width="20.6" height="20.6"/><rect x="1129.5" y="-298.8" width="20.6" height="20.6"/><rect x="1249.7" y="-163.1" width="20.6" height="20.6"/><rect x="1249.0" y="-715.3" width="20.6" height="20.6"/><rect x="1139.4" y="-423.3" width="20.6" height="20.6"/><rect x="1093.5" y="-193.5" width="20.6" height="20.6"/>
<rect x="1203.1" y="-454.4" width="20.6" height="20.6"/><rect x="1237.0" y="-710.4" width="20.6" height="20.6"/><rect x="1119.6" y="-392.2" width="20.6" height="20.6"/><rect x="1085.0" y="-248.6" width="20.6" height="20.6"/><rect x="1536.1" y="-1056.1" width="20.6" height="20.6"/><rect x="1300.7" y="-658.0" width="20.6" height="20.6"/>
<rect x="1283.7" y="-598.6" width="20.6" height="20.6"/><rect x="1196.0" y="-669.3" width="20.6" height="20.6"/><rect x="1119.6" y="-218.2" width="20.6" height="20.6"/><rect x="1353.7" y="-804.4" width="20.6" height="20.6"/><rect x="1408.1" y="-802.3" width="20.6" height="20.6"/><rect x="1099.3" y="201.8" width="20.6" height="20.6"/>
<rect x="1050.9" y="192.1" width="20.6" height="20.6"/><rect x="1093.1" y="155.1" width="20.6" height="20.6"/><rect x="1110.7" y="142.8" width="20.6" height="20.6"/><rect x="1130.9" y="127.8" width="20.6" height="20.6"/><rect x="1109.5" y="257.6" width="20.6" height="20.6"/><rect x="1038.0" y="197.0" width="20.6" height="20.6"/>
<rect x="1063.1" y="206.3" width="20.6" height="20.6"/><rect x="1079.0" y="227.3" width="20.6" height="20.6"/><rect x="1199.5" y="-129.1" width="20.6" height="20.6"/><rect x="1176.6" y="-105.5" width="20.6" height="20.6"/><rect x="1101.3" y="282.1" width="20.6" height="20.6"/><rect x="1100.5" y="257.2" width="20.6" height="20.6"/>
<rect x="1086.0" y="255.3" width="20.6" height="20.6"/><rect x="1116.7" y="208.0" width="20.6" height="20.6"/><rect x="1097.8" y="218.6" width="20.6" height="20.6"/><rect x="1074.4" y="224.4" width="20.6" height="20.6"/><rect x="1158.0" y="147.1" width="20.6" height="20.6"/><rect x="1147.6" y="117.5" width="20.6" height="20.6"/>
<rect x="1151.7" y="85.8" width="20.6" height="20.6"/><rect x="1129.5" y="145.6" width="20.6" height="20.6"/><rect x="1109.8" y="159.0" width="20.6" height="20.6"/><rect x="1116.9" y="126.9" width="20.6" height="20.6"/><rect x="1086.8" y="168.7" width="20.6" height="20.6"/><rect x="1092.6" y="185.0" width="20.6" height="20.6"/>
<rect x="1065.7" y="198.2" width="20.6" height="20.6"/><rect x="1064.6" y="176.6" width="20.6" height="20.6"/><rect x="1040.0" y="178.8" width="20.6" height="20.6"/><rect x="1026.3" y="178.8" width="20.6" height="20.6"/><rect x="1059.5" y="148.1" width="20.6" height="20.6"/><rect x="1036.9" y="149.3" width="20.6" height="20.6"/>
<rect x="1002.5" y="123.7" width="20.6" height="20.6"/><rect x="1025.0" y="121.2" width="20.6" height="20.6"/><rect x="1015.1" y="143.8" width="20.6" height="20.6"/><rect x="1038.8" y="110.0" width="20.6" height="20.6"/><rect x="1052.2" y="95.3" width="20.6" height="20.6"/><rect x="1037.5" y="86.2" width="20.6" height="20.6"/>
<rect x="1059.4" y="70.6" width="20.6" height="20.6"/><rect x="1099.5" y="73.0" width="20.6" height="20.6"/><rect x="1118.9" y="44.9" width="20.6" height="20.6"/><rect x="1139.4" y="20.5" width="20.6" height="20.6"/><rect x="1112.0" y="20.5" width="20.6" height="20.6"/><rect x="1092.0" y="18.0" width="20.6" height="20.6"/>
<rect x="1116.7" y="-16.8" width="20.6" height="20.6"/><rect x="1055.6" y="44.3" width="20.6" height="20.6"/><rect x="1127.6" y="76.2" width="20.6" height="20.6"/><rect x="1108.2" y="88.1" width="20.6" height="20.6"/><rect x="1088.2" y="111.9" width="20.6" height="20.6"/><rect x="1094.4" y="130.6" width="20.6" height="20.6"/>
<rect x="1115.1" y="107.5" width="20.6" height="20.6"/><rect x="1129.5" y="93.1" width="20.6" height="20.6"/><rect x="1164.5" y="44.3" width="20.6" height="20.6"/><rect x="1170.1" y="22.3" width="20.6" height="20.6"/><rect x="1184.5" y="10.5" width="20.6" height="20.6"/><rect x="1168.9" y="-2.6" width="20.6" height="20.6"/>
<rect x="1188.3" y="-22.0" width="20.6" height="20.6"/><rect x="1217.4" y="-17.9" width="20.6" height="20.6"/><rect x="1250.0" y="-53.0" width="20.6" height="20.6"/><rect x="1223.3" y="-105.8" width="20.6" height="20.6"/><rect x="1166.4" y="-28.9" width="20.6" height="20.6"/><rect x="1153.9" y="-10.2" width="20.6" height="20.6"/>
<rect x="1182.0" y="-49.5" width="20.6" height="20.6"/><rect x="1184.5" y="-69.6" width="20.6" height="20.6"/><rect x="1167.0" y="-74.5" width="20.6" height="20.6"/><rect x="1138.2" y="-40.8" width="20.6" height="20.6"/><rect x="1147.6" y="38.7" width="20.6" height="20.6"/><rect x="1149.5" y="50.6" width="20.6" height="20.6"/>
<rect x="1018.4" y="59.6" width="20.6" height="20.6"/><rect x="991.8" y="19.9" width="20.6" height="20.6"/><rect x="990.6" y="-16.3" width="20.6" height="20.6"/><rect x="989.0" y="-56.1" width="20.6" height="20.6"/><rect x="985.3" y="-77.4" width="20.6" height="20.6"/><rect x="954.7" y="-75.0" width="20.6" height="20.6"/>
<rect x="979.6" y="-121.8" width="20.6" height="20.6"/><rect x="998.4" y="-120.5" width="20.6" height="20.6"/><rect x="989.0" y="-99.9" width="20.6" height="20.6"/><rect x="1004.7" y="-160.6" width="20.6" height="20.6"/><rect x="998.4" y="-196.9" width="20.6" height="20.6"/><rect x="998.4" y="-219.3" width="20.6" height="20.6"/>
<rect x="1009.0" y="-237.4" width="20.6" height="20.6"/><rect x="998.4" y="-261.9" width="20.6" height="20.6"/><rect x="1022.2" y="-259.4" width="20.6" height="20.6"/><rect x="1053.4" y="-274.4" width="20.6" height="20.6"/><rect x="1043.4" y="-300.7" width="20.6" height="20.6"/><rect x="1021.0" y="2.1" width="20.6" height="20.6"/>
<rect x="1014.7" y="20.8" width="20.6" height="20.6"/><rect x="1042.8" y="17.7" width="20.6" height="20.6"/><rect x="1054.7" y="-7.9" width="20.6" height="20.6"/><rect x="1051.0" y="-35.4" width="20.6" height="20.6"/><rect x="1019.7" y="-64.3" width="20.6" height="20.6"/><rect x="1009.0" y="-44.8" width="20.6" height="20.6"/>
<rect x="1031.0" y="-83.0" width="20.6" height="20.6"/><rect x="1037.8" y="-99.9" width="20.6" height="20.6"/><rect x="1036.0" y="-118.0" width="20.6" height="20.6"/><rect x="1031.6" y="-154.9" width="20.6" height="20.6"/><rect x="1052.9" y="-168.7" width="20.6" height="20.6"/><rect x="1028.4" y="-178.0" width="20.6" height="20.6"/>
<rect x="1042.2" y="-198.1" width="20.6" height="20.6"/><rect x="1064.7" y="-224.4" width="20.6" height="20.6"/><rect x="1081.0" y="-169.3" width="20.6" height="20.6"/><rect x="1069.7" y="-124.3" width="20.6" height="20.6"/><rect x="1074.1" y="-99.8" width="20.6" height="20.6"/><rect x="1104.1" y="-91.1" width="20.6" height="20.6"/>
<rect x="1091.0" y="-53.0" width="20.6" height="20.6"/><rect x="1067.9" y="-56.1" width="20.6" height="20.6"/><rect x="1124.8" y="-64.3" width="20.6" height="20.6"/><rect x="1125.4" y="-103.7" width="20.6" height="20.6"/><rect x="1141.6" y="-122.4" width="20.6" height="20.6"/><rect x="1117.2" y="-161.8" width="20.6" height="20.6"/>
<rect x="1140.4" y="-171.1" width="20.6" height="20.6"/><rect x="1154.2" y="-163.7" width="20.6" height="20.6"/><rect x="1147.3" y="-196.8" width="20.6" height="20.6"/><rect x="1167.3" y="-99.3" width="20.6" height="20.6"/><rect x="1182.4" y="-141.8" width="20.6" height="20.6"/><rect x="1096.7" y="-218.7" width="20.6" height="20.6"/>
<rect x="1096.0" y="-253.1" width="20.6" height="20.6"/><rect x="1146.1" y="-105.5" width="20.6" height="20.6"/><rect x="1112.3" y="-49.2" width="20.6" height="20.6"/><rect x="1022.2" y="-21.6" width="20.6" height="20.6"/><rect x="1003.5" y="-10.4" width="20.6" height="20.6"/><rect x="1043.5" y="-55.5" width="20.6" height="20.6"/>
<rect x="1071.8" y="-565.4" width="20.6" height="20.6"/><rect x="1066.5" y="-493.7" width="20.6" height="20.6"/><rect x="1045.5" y="-461.0" width="20.6" height="20.6"/><rect x="1024.8" y="-424.5" width="20.6" height="20.6"/><rect x="1025.2" y="-406.2" width="20.6" height="20.6"/><rect x="1003.5" y="-356.9" width="20.6" height="20.6"/>
<rect x="1005.2" y="-324.8" width="20.6" height="20.6"/><rect x="956.0" y="-263.2" width="20.6" height="20.6"/><rect x="964.8" y="-248.3" width="20.6" height="20.6"/><rect x="1025.2" y="-316.1" width="20.6" height="20.6"/><rect x="1045.9" y="-330.4" width="20.6" height="20.6"/><rect x="1045.2" y="-372.4" width="20.6" height="20.6"/>
<rect x="1032.7" y="-384.9" width="20.6" height="20.6"/><rect x="1042.7" y="-403.6" width="20.6" height="20.6"/><rect x="1062.1" y="-399.2" width="20.6" height="20.6"/><rect x="1069.0" y="-431.2" width="20.6" height="20.6"/><rect x="1074.6" y="-453.0" width="20.6" height="20.6"/><rect x="1087.1" y="-470.5" width="20.6" height="20.6"/>
<rect x="1094.7" y="-503.1" width="20.6" height="20.6"/><rect x="1117.2" y="-533.1" width="20.6" height="20.6"/><rect x="1117.1" y="-490.6" width="20.6" height="20.6"/><rect x="1114.6" y="-468.0" width="20.6" height="20.6"/><rect x="1102.7" y="-432.4" width="20.6" height="20.6"/><rect x="1101.5" y="-408.6" width="20.6" height="20.6"/>
<rect x="1085.3" y="-394.8" width="20.6" height="20.6"/><rect x="1097.8" y="-367.3" width="20.6" height="20.6"/><rect x="1065.9" y="-329.2" width="20.6" height="20.6"/><rect x="1057.1" y="-294.2" width="20.6" height="20.6"/><rect x="1084.0" y="-288.5" width="20.6" height="20.6"/><rect x="1080.8" y="-306.7" width="20.6" height="20.6"/>
<rect x="1107.8" y="-322.3" width="20.6" height="20.6"/><rect x="1099.6" y="-346.7" width="20.6" height="20.6"/><rect x="1120.3" y="-373.6" width="20.6" height="20.6"/><rect x="1139.6" y="-403.0" width="20.6" height="20.6"/><rect x="1153.4" y="-409.3" width="20.6" height="20.6"/><rect x="1149.7" y="-445.5" width="20.6" height="20.6"/>
<rect x="1170.3" y="-462.4" width="20.6" height="20.6"/><rect x="1151.5" y="-498.7" width="20.6" height="20.6"/><rect x="1171.5" y="-436.1" width="20.6" height="20.6"/><rect x="1201.6" y="-408.6" width="20.6" height="20.6"/><rect x="1134.1" y="-341.1" width="20.6" height="20.6"/><rect x="1033.3" y="-339.2" width="20.6" height="20.6"/>
<rect x="1043.3" y="-354.2" width="20.6" height="20.6"/><rect x="1249.7" y="-163.2" width="20.6" height="20.6"/><rect x="1273.3" y="-167.9" width="20.6" height="20.6"/><rect x="1267.0" y="-213.0" width="20.6" height="20.6"/><rect x="1258.2" y="-226.7" width="20.6" height="20.6"/><rect x="1270.7" y="-261.7" width="20.6" height="20.6"/>
<rect x="1258.9" y="-277.4" width="20.6" height="20.6"/><rect x="1296.0" y="-307.0" width="20.6" height="20.6"/><rect x="1315.1" y="-335.0" width="20.6" height="20.6"/><rect x="1307.7" y="-321.2" width="20.6" height="20.6"/><rect x="1307.0" y="-351.9" width="20.6" height="20.6"/><rect x="1308.3" y="-389.3" width="20.6" height="20.6"/>
<rect x="1297.7" y="-393.7" width="20.6" height="20.6"/><rect x="1319.5" y="-445.7" width="20.6" height="20.6"/><rect x="1360.8" y="-430.7" width="20.6" height="20.6"/><rect x="1366.8" y="-446.6" width="20.6" height="20.6"/><rect x="1347.0" y="-479.4" width="20.6" height="20.6"/><rect x="1369.0" y="-500.1" width="20.6" height="20.6"/>
<rect x="1292.7" y="-421.2" width="20.6" height="20.6"/><rect x="1302.6" y="-433.7" width="20.6" height="20.6"/><rect x="1170.0" y="-181.1" width="20.6" height="20.6"/><rect x="1190.7" y="-184.2" width="20.6" height="20.6"/><rect x="1219.5" y="-201.7" width="20.6" height="20.6"/><rect x="1236.3" y="-214.8" width="20.6" height="20.6"/>
<rect x="1210.7" y="-156.7" width="20.6" height="20.6"/><rect x="1226.3" y="-182.4" width="20.6" height="20.6"/><rect x="1242.6" y="-201.0" width="20.6" height="20.6"/><rect x="1237.6" y="-243.6" width="20.6" height="20.6"/><rect x="1201.9" y="-265.4" width="20.6" height="20.6"/><rect x="1193.8" y="-247.4" width="20.6" height="20.6"/>
<rect x="1166.9" y="-214.2" width="20.6" height="20.6"/><rect x="1136.2" y="-227.3" width="20.6" height="20.6"/><rect x="1156.3" y="-254.8" width="20.6" height="20.6"/><rect x="1152.6" y="-281.1" width="20.6" height="20.6"/><rect x="1141.3" y="-321.2" width="20.6" height="20.6"/><rect x="1105.6" y="-291.8" width="20.6" height="20.6"/>
<rect x="1123.2" y="-284.3" width="20.6" height="20.6"/><rect x="1153.8" y="-299.9" width="20.6" height="20.6"/><rect x="1175.7" y="-321.8" width="20.6" height="20.6"/><rect x="1174.4" y="-339.3" width="20.6" height="20.6"/><rect x="1182.6" y="-303.6" width="20.6" height="20.6"/><rect x="1212.5" y="-303.6" width="20.6" height="20.6"/>
<rect x="1197.0" y="-284.3" width="20.6" height="20.6"/><rect x="1243.9" y="-298.6" width="20.6" height="20.6"/><rect x="1227.6" y="-332.4" width="20.6" height="20.6"/><rect x="1251.4" y="-335.0" width="20.6" height="20.6"/><rect x="1270.1" y="-322.4" width="20.6" height="20.6"/><rect x="1285.2" y="-343.7" width="20.6" height="20.6"/>
<rect x="1268.8" y="-355.0" width="20.6" height="20.6"/><rect x="1271.4" y="-384.9" width="20.6" height="20.6"/><rect x="1255.1" y="-381.3" width="20.6" height="20.6"/><rect x="1270.7" y="-403.1" width="20.6" height="20.6"/><rect x="1247.6" y="-403.8" width="20.6" height="20.6"/><rect x="1273.9" y="-420.0" width="20.6" height="20.6"/>
<rect x="1251.9" y="-426.9" width="20.6" height="20.6"/><rect x="1222.0" y="-401.8" width="20.6" height="20.6"/><rect x="1191.9" y="-374.3" width="20.6" height="20.6"/><rect x="1223.8" y="-440.0" width="20.6" height="20.6"/><rect x="1224.4" y="-421.9" width="20.6" height="20.6"/><rect x="1267.6" y="-458.8" width="20.6" height="20.6"/>
<rect x="1288.3" y="-465.6" width="20.6" height="20.6"/><rect x="1298.9" y="-497.6" width="20.6" height="20.6"/><rect x="1330.2" y="-508.8" width="20.6" height="20.6"/><rect x="1328.9" y="-537.5" width="20.6" height="20.6"/><rect x="1223.2" y="-360.6" width="20.6" height="20.6"/><rect x="1213.9" y="-324.9" width="20.6" height="20.6"/>
<rect x="1625.7" y="-779.4" width="20.6" height="20.6"/><rect x="1469.0" y="-721.0" width="20.6" height="20.6"/><rect x="1486.8" y="-712.5" width="20.6" height="20.6"/><rect x="1454.3" y="-595.0" width="20.6" height="20.6"/><rect x="1442.4" y="-551.3" width="20.6" height="20.6"/><rect x="1409.2" y="-534.4" width="20.6" height="20.6"/>
<rect x="1402.1" y="-514.5" width="20.6" height="20.6"/><rect x="1393.3" y="-555.2" width="20.6" height="20.6"/><rect x="1364.3" y="-533.7" width="20.6" height="20.6"/><rect x="1378.9" y="-594.7" width="20.6" height="20.6"/><rect x="1377.7" y="-580.9" width="20.6" height="20.6"/><rect x="1373.3" y="-621.6" width="20.6" height="20.6"/>
<rect x="1368.3" y="-627.8" width="20.6" height="20.6"/><rect x="1405.8" y="-667.9" width="20.6" height="20.6"/><rect x="1401.4" y="-654.7" width="20.6" height="20.6"/><rect x="1383.9" y="-657.2" width="20.6" height="20.6"/><rect x="1403.9" y="-714.7" width="20.6" height="20.6"/><rect x="1390.2" y="-695.9" width="20.6" height="20.6"/>
<rect x="1403.9" y="-732.3" width="20.6" height="20.6"/><rect x="1430.3" y="-743.5" width="20.6" height="20.6"/><rect x="1447.7" y="-766.1" width="20.6" height="20.6"/><rect x="1462.7" y="-788.6" width="20.6" height="20.6"/><rect x="1474.6" y="-792.9" width="20.6" height="20.6"/><rect x="1495.9" y="-820.5" width="20.6" height="20.6"/>
<rect x="1467.7" y="-823.6" width="20.6" height="20.6"/><rect x="1497.8" y="-862.4" width="20.6" height="20.6"/><rect x="1471.5" y="-854.9" width="20.6" height="20.6"/><rect x="1258.2" y="-611.6" width="20.6" height="20.6"/><rect x="1277.5" y="-654.7" width="20.6" height="20.6"/><rect x="1306.3" y="-692.3" width="20.6" height="20.6"/>
<rect x="1258.8" y="-642.2" width="20.6" height="20.6"/><rect x="1317.0" y="-604.1" width="20.6" height="20.6"/><rect x="1338.9" y="-613.4" width="20.6" height="20.6"/><rect x="1323.8" y="-633.4" width="20.6" height="20.6"/><rect x="1360.2" y="-651.0" width="20.6" height="20.6"/><rect x="1295.1" y="-563.4" width="20.6" height="20.6"/>
<rect x="1336.4" y="-587.2" width="20.6" height="20.6"/><rect x="1297.0" y="-582.8" width="20.6" height="20.6"/><rect x="1311.4" y="-537.1" width="20.6" height="20.6"/><rect x="1336.4" y="-559.7" width="20.6" height="20.6"/><rect x="1348.9" y="-679.7" width="20.6" height="20.6"/><rect x="1332.0" y="-674.1" width="20.6" height="20.6"/>
<rect x="1372.6" y="-731.0" width="20.6" height="20.6"/><rect x="1406.4" y="-759.9" width="20.6" height="20.6"/><rect x="1385.2" y="-766.0" width="20.6" height="20.6"/><rect x="1421.4" y="-787.3" width="20.6" height="20.6"/><rect x="1428.4" y="-807.9" width="20.6" height="20.6"/><rect x="1397.7" y="-788.6" width="20.6" height="20.6"/>
<rect x="1385.2" y="-678.5" width="20.6" height="20.6"/><rect x="1125.1" y="-627.2" width="20.6" height="20.6"/><rect x="1150.4" y="-652.0" width="20.6" height="20.6"/><rect x="1150.8" y="-684.1" width="20.6" height="20.6"/><rect x="1167.6" y="-695.4" width="20.6" height="20.6"/><rect x="1183.8" y="-741.7" width="20.6" height="20.6"/>
<rect x="1205.1" y="-715.5" width="20.6" height="20.6"/><rect x="1246.1" y="-768.9" width="20.6" height="20.6"/><rect x="1238.6" y="-760.1" width="20.6" height="20.6"/><rect x="1272.3" y="-822.7" width="20.6" height="20.6"/><rect x="1271.1" y="-849.0" width="20.6" height="20.6"/><rect x="1285.5" y="-855.9" width="20.6" height="20.6"/>
<rect x="1306.5" y="-823.1" width="20.6" height="20.6"/><rect x="1316.1" y="-869.0" width="20.6" height="20.6"/><rect x="1327.4" y="-850.2" width="20.6" height="20.6"/><rect x="1343.6" y="-836.5" width="20.6" height="20.6"/><rect x="1173.5" y="-647.6" width="20.6" height="20.6"/><rect x="1166.0" y="-626.4" width="20.6" height="20.6"/>
<rect x="1120.1" y="-561.7" width="20.6" height="20.6"/><rect x="1137.2" y="-577.5" width="20.6" height="20.6"/><rect x="1153.6" y="-583.8" width="20.6" height="20.6"/><rect x="1159.8" y="-607.5" width="20.6" height="20.6"/><rect x="1201.7" y="-647.0" width="20.6" height="20.6"/><rect x="1209.8" y="-735.2" width="20.6" height="20.6"/>
<rect x="1222.9" y="-717.1" width="20.6" height="20.6"/><rect x="1238.6" y="-718.8" width="20.6" height="20.6"/><rect x="1217.3" y="-692.6" width="20.6" height="20.6"/><rect x="1237.4" y="-692.6" width="20.6" height="20.6"/><rect x="1223.6" y="-656.3" width="20.6" height="20.6"/><rect x="1274.8" y="-767.7" width="20.6" height="20.6"/>
<rect x="1284.2" y="-780.8" width="20.6" height="20.6"/><rect x="1302.3" y="-787.7" width="20.6" height="20.6"/><rect x="1288.6" y="-764.0" width="20.6" height="20.6"/><rect x="1271.1" y="-746.4" width="20.6" height="20.6"/><rect x="1307.4" y="-767.7" width="20.6" height="20.6"/><rect x="1294.9" y="-732.7" width="20.6" height="20.6"/>
<rect x="1266.1" y="-716.4" width="20.6" height="20.6"/><rect x="1343.6" y="-811.5" width="20.6" height="20.6"/><rect x="1347.4" y="-775.2" width="20.6" height="20.6"/><rect x="1368.7" y="-806.5" width="20.6" height="20.6"/><rect x="1158.5" y="-560.0" width="20.6" height="20.6"/><rect x="1181.6" y="-590.6" width="20.6" height="20.6"/>
<rect x="1151.7" y="-529.4" width="20.6" height="20.6"/><rect x="1188.5" y="-561.3" width="20.6" height="20.6"/><rect x="1222.4" y="-587.5" width="20.6" height="20.6"/><rect x="1228.6" y="-626.3" width="20.6" height="20.6"/><rect x="1251.1" y="-661.4" width="20.6" height="20.6"/><rect x="1324.3" y="-740.8" width="20.6" height="20.6"/>
<rect x="1319.9" y="-637.5" width="20.6" height="20.6"/><rect x="1217.3" y="-555.0" width="20.6" height="20.6"/><rect x="1197.3" y="-517.5" width="20.6" height="20.6"/><rect x="1171.7" y="-496.8" width="20.6" height="20.6"/><rect x="1370.7" y="-1018.6" width="20.6" height="20.6"/><rect x="1323.5" y="-893.7" width="20.6" height="20.6"/>
<rect x="1309.1" y="-899.4" width="20.6" height="20.6"/><rect x="1355.9" y="-928.7" width="20.6" height="20.6"/><rect x="1366.6" y="-934.4" width="20.6" height="20.6"/><rect x="1387.8" y="-960.6" width="20.6" height="20.6"/><rect x="1398.5" y="-961.2" width="20.6" height="20.6"/><rect x="1414.8" y="-978.8" width="20.6" height="20.6"/>
<rect x="1424.2" y="-994.4" width="20.6" height="20.6"/><rect x="1434.2" y="-996.9" width="20.6" height="20.6"/><rect x="1438.3" y="-1022.3" width="20.6" height="20.6"/><rect x="1463.6" y="-1013.8" width="20.6" height="20.6"/><rect x="1479.8" y="-1075.1" width="20.6" height="20.6"/><rect x="1486.7" y="-1079.5" width="20.6" height="20.6"/>
<rect x="1479.8" y="-1090.1" width="20.6" height="20.6"/><rect x="1488.5" y="-1105.1" width="20.6" height="20.6"/><rect x="1512.7" y="-1135.5" width="20.6" height="20.6"/><rect x="1536.1" y="-1166.4" width="20.6" height="20.6"/><rect x="1557.4" y="-1167.6" width="20.6" height="20.6"/><rect x="1530.5" y="-1109.5" width="20.6" height="20.6"/>
<rect x="1559.9" y="-1122.6" width="20.6" height="20.6"/><rect x="1569.8" y="-1153.9" width="20.6" height="20.6"/><rect x="1521.1" y="-1086.4" width="20.6" height="20.6"/><rect x="1521.1" y="-1076.4" width="20.6" height="20.6"/><rect x="1551.1" y="-1096.4" width="20.6" height="20.6"/><rect x="1497.3" y="-1030.0" width="20.6" height="20.6"/>
<rect x="1507.3" y="-1022.5" width="20.6" height="20.6"/><rect x="1516.1" y="-1038.8" width="20.6" height="20.6"/><rect x="1520.5" y="-1059.5" width="20.6" height="20.6"/><rect x="1538.6" y="-1066.4" width="20.6" height="20.6"/><rect x="1349.1" y="-880.6" width="20.6" height="20.6"/><rect x="1386.0" y="-911.2" width="20.6" height="20.6"/>
<rect x="1369.7" y="-910.0" width="20.6" height="20.6"/><rect x="1383.5" y="-928.8" width="20.6" height="20.6"/><rect x="1419.8" y="-951.3" width="20.6" height="20.6"/><rect x="1464.1" y="-976.9" width="20.6" height="20.6"/><rect x="1473.5" y="-993.8" width="20.6" height="20.6"/><rect x="1382.3" y="-842.4" width="20.6" height="20.6"/>
<rect x="1357.2" y="-835.0" width="20.6" height="20.6"/><rect x="1377.2" y="-859.9" width="20.6" height="20.6"/><rect x="1368.5" y="-888.8" width="20.6" height="20.6"/><rect x="1404.8" y="-910.0" width="20.6" height="20.6"/><rect x="1423.5" y="-923.8" width="20.6" height="20.6"/><rect x="1445.5" y="-918.1" width="20.6" height="20.6"/>
<rect x="1423.5" y="-888.7" width="20.6" height="20.6"/><rect x="1462.3" y="-957.6" width="20.6" height="20.6"/><rect x="1478.6" y="-923.8" width="20.6" height="20.6"/><rect x="1448.5" y="-883.7" width="20.6" height="20.6"/><rect x="1436.7" y="-854.3" width="20.6" height="20.6"/><rect x="1376.0" y="-808.6" width="20.6" height="20.6"/>
<rect x="1484.2" y="-901.8" width="20.6" height="20.6"/><rect x="1497.3" y="-892.4" width="20.6" height="20.6"/><rect x="1507.9" y="-923.1" width="20.6" height="20.6"/><rect x="1503.6" y="-941.3" width="20.6" height="20.6"/><rect x="1505.4" y="-960.7" width="20.6" height="20.6"/><rect x="1527.4" y="-990.1" width="20.6" height="20.6"/>
<rect x="1554.9" y="-995.0" width="20.6" height="20.6"/><rect x="1547.9" y="-1028.2" width="20.6" height="20.6"/><rect x="1566.1" y="-1036.3" width="20.6" height="20.6"/><rect x="1584.8" y="-1040.1" width="20.6" height="20.6"/><rect x="1589.9" y="-1070.1" width="20.6" height="20.6"/><rect x="1630.0" y="-1082.7" width="20.6" height="20.6"/>
<rect x="1619.9" y="-1105.1" width="20.6" height="20.6"/><rect x="1597.4" y="-1095.1" width="20.6" height="20.6"/><rect x="1607.4" y="-1042.6" width="20.6" height="20.6"/><rect x="1571.1" y="-1016.3" width="20.6" height="20.6"/><rect x="1556.1" y="-976.3" width="20.6" height="20.6"/><rect x="1573.7" y="-983.8" width="20.6" height="20.6"/>
<rect x="1572.3" y="-955.0" width="20.6" height="20.6"/><rect x="1627.4" y="-1030.0" width="20.6" height="20.6"/><rect x="1668.1" y="-1067.0" width="20.6" height="20.6"/><rect x="1540.5" y="-910.6" width="20.6" height="20.6"/><rect x="1557.4" y="-925.0" width="20.6" height="20.6"/><rect x="1504.9" y="-1005.1" width="20.6" height="20.6"/>
<rect x="1586.1" y="-1131.4" width="20.6" height="20.6"/><rect x="1547.4" y="-1127.6" width="20.6" height="20.6"/><rect x="1508.8" y="-1326.4" width="20.6" height="20.6"/><rect x="1395.3" y="-1149.0" width="20.6" height="20.6"/><rect x="1410.0" y="-1110.8" width="20.6" height="20.6"/><rect x="1546.8" y="-1236.0" width="20.6" height="20.6"/>
<rect x="1592.1" y="-1297.8" width="20.6" height="20.6"/><rect x="1636.3" y="-1287.0" width="20.6" height="20.6"/><rect x="1561.8" y="-1212.2" width="20.6" height="20.6"/><rect x="1587.5" y="-1219.1" width="20.6" height="20.6"/><rect x="1584.6" y="-1178.1" width="20.6" height="20.6"/><rect x="1555.1" y="-1127.5" width="20.6" height="20.6"/>
<rect x="1588.3" y="-1154.4" width="20.6" height="20.6"/><rect x="1615.2" y="-1220.0" width="20.6" height="20.6"/><rect x="1608.3" y="-1204.4" width="20.6" height="20.6"/><rect x="1622.1" y="-1191.9" width="20.6" height="20.6"/><rect x="1623.9" y="-1218.8" width="20.6" height="20.6"/><rect x="1656.5" y="-1241.4" width="20.6" height="20.6"/>
<rect x="1678.4" y="-1239.4" width="20.6" height="20.6"/><rect x="1664.0" y="-1251.3" width="20.6" height="20.6"/><rect x="1680.2" y="-1220.0" width="20.6" height="20.6"/><rect x="1664.0" y="-1195.0" width="20.6" height="20.6"/><rect x="1622.7" y="-1152.5" width="20.6" height="20.6"/><rect x="1638.9" y="-1158.8" width="20.6" height="20.6"/>
<rect x="1439.5" y="-1000.5" width="20.6" height="20.6"/><rect x="1455.1" y="-992.4" width="20.6" height="20.6"/><rect x="1615.2" y="-1132.5" width="20.6" height="20.6"/><rect x="1728.5" y="-927.2" width="20.6" height="20.6"/><rect x="1569.4" y="-876.8" width="20.6" height="20.6"/><rect x="1596.8" y="-879.2" width="20.6" height="20.6"/>
<rect x="1677.8" y="-1134.9" width="20.6" height="20.6"/><rect x="1690.3" y="-1170.5" width="20.6" height="20.6"/><rect x="1683.5" y="-1178.6" width="20.6" height="20.6"/><rect x="1674.1" y="-1185.5" width="20.6" height="20.6"/><rect x="1565.2" y="-1056.6" width="20.6" height="20.6"/><rect x="1641.5" y="-1097.9" width="20.6" height="20.6"/>
<rect x="1641.5" y="-1117.9" width="20.6" height="20.6"/><rect x="1646.5" y="-1139.2" width="20.6" height="20.6"/><rect x="1619.6" y="-1129.7" width="20.6" height="20.6"/>
</g>
<path d="M580.8,979.4L592.2,961.1L603.6,943.8L615.1,927.5L626.5,912.1L638.0,897.4L649.4,883.4L660.9,870.1L672.3,857.3L683.7,845.0L695.2,833.2L706.6,821.9L718.1,810.9L729.5,800.4L741.0,790.2L752.4,780.4L763.8,770.9L775.3,761.6L786.7,752.7L798.2,744.0L809.6,735.6L821.1,727.3L832.5,719.3L843.9,711.6L855.4,704.0L866.8,696.6L878.3,689.4L889.7,682.3L901.2,675.4L912.6,668.7L924.0,662.1L935.5,655.7L946.9,649.4L958.4,643.2L969.8,637.1L981.2,631.2L992.7,625.4L1004.1,619.7L1015.6,614.1L1027.0,608.6L1038.5,603.2L1049.9,597.9L1061.3,592.7L1072.8,587.6L1084.2,582.6L1095.7,577.6L1107.1,572.8L1118.6,568.0L1130.0,563.3L1141.4,558.6L1152.9,554.1L1164.3,549.6L1175.8,545.1L1187.2,540.8L1198.7,536.5L1210.1,532.2L1221.5,528.0L1233.0,523.9L1244.4,519.9L1255.9,515.8L1267.3,511.9L1278.8,508.0L1290.2,504.1L1301.6,500.3L1313.1,496.5L1324.5,492.8L1336.0,489.2L1347.4,485.5L1358.9,482.0L1370.3,478.4L1381.7,474.9L1393.2,471.5L1404.6,468.1L1416.1,464.7L1427.5,461.3L1439.0,458.0L1450.4,454.8L1461.8,451.5L1473.3,448.3L1484.7,445.2L1496.2,442.1L1507.6,439.0L1519.0,435.9L1530.5,432.9L1541.9,429.9L1553.4,426.9L1564.8,423.9L1576.3,421.0L1587.7,418.1L1599.1,415.3L1610.6,412.4L1622.0,409.6L1633.5,406.9L1644.9,404.1L1656.4,401.4L1667.8,398.7L1679.2,396.0L1690.7,393.3L1702.1,390.7L1713.6,388.1L1725.0,385.5L1736.5,382.9L1747.9,380.4L1759.3,377.9L1770.8,375.4L1782.2,372.9L1793.7,370.4L1805.1,368.0L1816.6,365.6L1828.0,363.2L1839.4,360.8L1850.9,358.4L1862.3,356.1L1873.8,353.8L1885.2,351.5L1896.7,349.2L1908.1,346.9L1919.5,344.7L1931.0,342.4L1942.4,340.2L1953.9,338.0L1965.3,335.8L1976.8,333.6L1988.2,331.5L1999.6,329.3L2011.1,327.2L2022.5,325.1L2034.0,323.0L2045.4,320.9L2056.8,318.9L2068.3,316.8" fill="none" stroke="#000" stroke-width="5.5" stroke-linecap="round" stroke-linejoin="round" shape-rendering="crispEdges"/>
<rect x="1546" y="748" width="546" height="165" fill="#000" shape-rendering="crispEdges"/>
<rect x="1552" y="754" width="535" height="154" fill="#fff" shape-rendering="crispEdges"/>
<text transform="translate(0,815) scale(0.9500,1)" x="1649.5 1676.75 1690.74 1722.56 1736 1766.47 1796.76 1812.29 1842.82 1874.58 1886.66 1919.37 1938.61 1966.47 1984.63 1997.05 2028.88 2041.92 2073.71 2103.97 2120 2150.89" font-size="54.5">y = 41.22ln(x) + 26.10</text>
<text transform="translate(0,886) scale(0.9500,1)" x="1803.95 1839.84 1858 1872.84 1904.67 1916.84 1948.13 1963.47 1995" dy="0 -5 5" font-size="54.5">R² = 0.85</text>
<g class="b"><text class="bi" transform="translate(0,1279) scale(0.9300,1)" x="1275.42 1289.16 1327.04" font-size="53">IRI</text>
<text transform="translate(0,1279)" x="1260 1278.95 1326.3 1351.05 1380.05 1428.4" dy="0 0 7 -7" font-size="53">(m<tspan font-size="70" rotate="8">/</tspan>km)</text></g>
<g class="bi" transform="translate(150.1,673.9) rotate(-90)"><text transform="scale(0.9300,1)" x="-3.37 33.82 76.5" font-size="53">RQI</text><text y="14" x="86.35 119.07 127.1 144.1" font-size="37">Mich</text></g>
</svg></body></html>
